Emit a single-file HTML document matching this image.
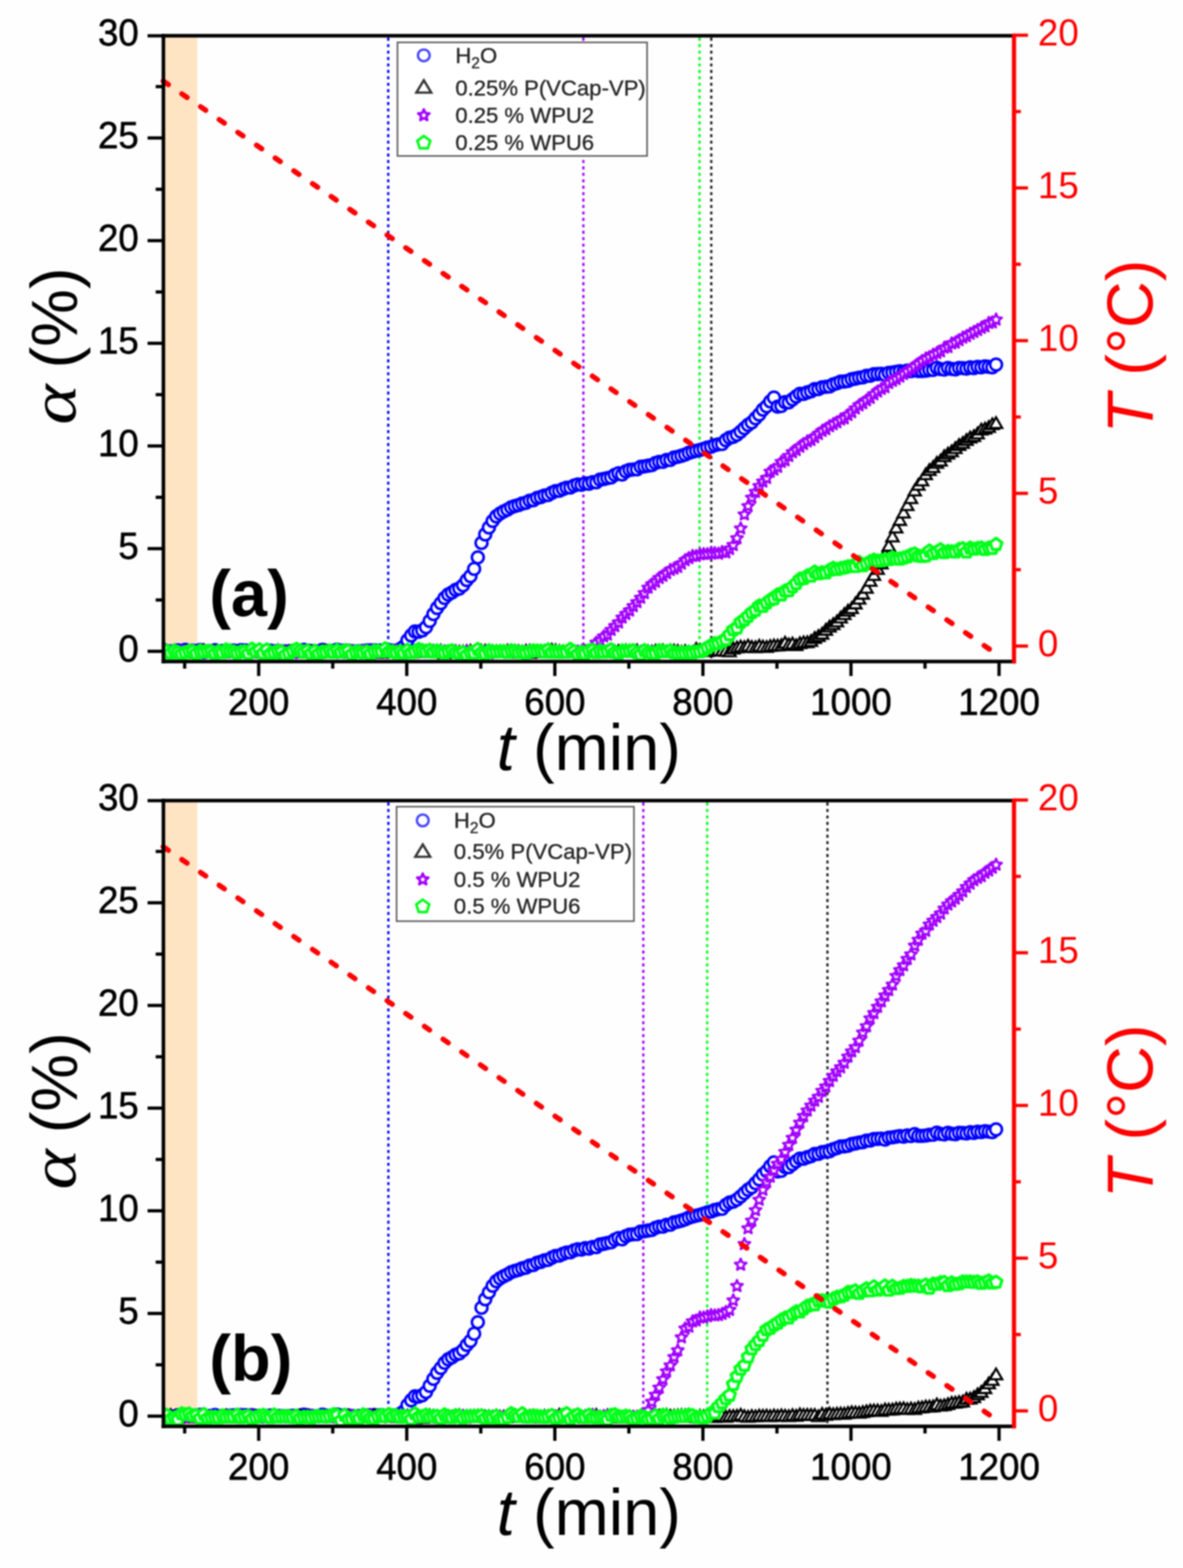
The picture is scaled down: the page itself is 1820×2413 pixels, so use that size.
<!DOCTYPE html>
<html><head><meta charset="utf-8"><title>Figure</title>
<style>html,body{margin:0;padding:0;background:#fefefe;}svg{display:block;}</style>
</head><body>
<svg xmlns="http://www.w3.org/2000/svg" width="1820" height="2413" viewBox="0 0 1820 2413">

<defs>
  <g id="c"><circle r="9.1" fill="#fff" stroke="#0000ff" stroke-width="3.9"/></g>
  <g id="tr"><path d="M0,-8.2 L9.5,8.25 L-9.5,8.25 Z" fill="#fff" stroke="#000000" stroke-width="3.3" stroke-linejoin="miter"/></g>
  <g id="st"><path d="M0.00,-8.50 L2.53,-2.58 L8.94,-2.01 L4.09,2.23 L5.53,8.50 L0.00,5.20 L-5.53,8.50 L-4.09,2.23 L-8.94,-2.01 L-2.53,-2.58 Z" fill="#fff" stroke="#a000ff" stroke-width="3.4" stroke-linejoin="round"/></g>
  <g id="pe"><path d="M0.00,-8.68 L9.13,-2.05 L5.64,8.68 L-5.64,8.68 L-9.13,-2.05 Z" fill="#fff" stroke="#00ff18" stroke-width="4.6" stroke-linejoin="round"/></g>
  <g id="lc"><circle r="9" fill="none" stroke="#4444ff" stroke-width="3.6"/></g>
  <g id="ltr"><path d="M0,-10 L11.5,9 L-11.5,9 Z" fill="none" stroke="#333" stroke-width="3.6"/></g>
  <g id="lst"><path d="M0.00,-8.32 L2.47,-2.52 L8.75,-1.96 L3.99,2.18 L5.41,8.32 L0.00,5.08 L-5.41,8.32 L-3.99,2.18 L-8.75,-1.96 L-2.47,-2.52 Z" fill="none" stroke="#a000ff" stroke-width="3.8" stroke-linejoin="round"/></g>
  <g id="lpe"><path d="M0.00,-9.50 L9.99,-2.24 L6.17,9.50 L-6.17,9.50 L-9.99,-2.24 Z" fill="none" stroke="#00ff18" stroke-width="4"/></g>
</defs>

<clipPath id="ca"><rect x="251.4" y="55.1" width="1308.6" height="962.9"/></clipPath>
<clipPath id="cb"><rect x="251.4" y="1232.1" width="1308.6" height="962.9"/></clipPath>
<filter id="soft" x="0" y="0" width="1" height="1" color-interpolation-filters="sRGB"><feGaussianBlur stdDeviation="0.8"/></filter>
<g filter="url(#soft)">
<rect width="1820" height="2413" fill="#fefefe"/>
<g transform="translate(0,0)">
<rect x="251.4" y="55.1" width="52.1" height="962.9" fill="#ffe4c4"/>
<line x1="597.3" y1="58.1" x2="597.3" y2="1015" stroke="#0000ff" stroke-width="3.5" stroke-dasharray="4.6 5.3"/>
<line x1="897.5" y1="58.1" x2="897.5" y2="1015" stroke="#a000ff" stroke-width="3.5" stroke-dasharray="4.6 5.3"/>
<line x1="1076.2" y1="58.1" x2="1076.2" y2="1015" stroke="#00ff18" stroke-width="3.5" stroke-dasharray="4.6 5.3"/>
<line x1="1094.3" y1="58.1" x2="1094.3" y2="1015" stroke="#222" stroke-width="3.5" stroke-dasharray="4.6 5.3"/>
</g>
<g clip-path="url(#ca)"><g><use href="#c" x="251.1" y="1000.1"/>
<use href="#c" x="256.8" y="1002.2"/>
<use href="#c" x="262.5" y="1002.2"/>
<use href="#c" x="268.2" y="1002.7"/>
<use href="#c" x="273.8" y="1000.8"/>
<use href="#c" x="279.5" y="1003.8"/>
<use href="#c" x="285.2" y="1000"/>
<use href="#c" x="290.9" y="1002.4"/>
<use href="#c" x="296.6" y="1001.4"/>
<use href="#c" x="302.3" y="1001.9"/>
<use href="#c" x="308" y="1000.3"/>
<use href="#c" x="313.7" y="1003.6"/>
<use href="#c" x="319.4" y="1002"/>
<use href="#c" x="325.1" y="1002"/>
<use href="#c" x="330.8" y="1000.6"/>
<use href="#c" x="336.5" y="1002.7"/>
<use href="#c" x="342.2" y="1001.8"/>
<use href="#c" x="347.9" y="1002.5"/>
<use href="#c" x="353.6" y="1001.6"/>
<use href="#c" x="359.3" y="1001.1"/>
<use href="#c" x="365" y="1002.7"/>
<use href="#c" x="370.7" y="1000.6"/>
<use href="#c" x="376.4" y="1000.8"/>
<use href="#c" x="382.1" y="1001.2"/>
<use href="#c" x="387.7" y="1000.8"/>
<use href="#c" x="393.4" y="1002.3"/>
<use href="#c" x="399.1" y="1001.8"/>
<use href="#c" x="404.8" y="1002.6"/>
<use href="#c" x="410.5" y="1001.9"/>
<use href="#c" x="416.2" y="1001.2"/>
<use href="#c" x="421.9" y="1002.3"/>
<use href="#c" x="427.6" y="1002"/>
<use href="#c" x="433.3" y="1002.3"/>
<use href="#c" x="439" y="1002.5"/>
<use href="#c" x="444.7" y="1002.3"/>
<use href="#c" x="450.4" y="1001.7"/>
<use href="#c" x="456.1" y="1002.7"/>
<use href="#c" x="461.8" y="1001.4"/>
<use href="#c" x="467.5" y="1000.1"/>
<use href="#c" x="473.2" y="1001"/>
<use href="#c" x="478.9" y="1001.8"/>
<use href="#c" x="484.6" y="1002.5"/>
<use href="#c" x="490.3" y="1002.4"/>
<use href="#c" x="496" y="1000.1"/>
<use href="#c" x="501.6" y="1001.6"/>
<use href="#c" x="507.3" y="1002.3"/>
<use href="#c" x="513" y="1001.5"/>
<use href="#c" x="518.7" y="999.7"/>
<use href="#c" x="524.4" y="1001.6"/>
<use href="#c" x="530.1" y="1001.1"/>
<use href="#c" x="535.8" y="1001.4"/>
<use href="#c" x="541.5" y="1002"/>
<use href="#c" x="547.2" y="1002.8"/>
<use href="#c" x="552.9" y="1002"/>
<use href="#c" x="558.6" y="1001.9"/>
<use href="#c" x="564.3" y="1001.1"/>
<use href="#c" x="570" y="1000.9"/>
<use href="#c" x="575.7" y="1000.8"/>
<use href="#c" x="581.4" y="1001.4"/>
<use href="#c" x="587.1" y="1000.8"/>
<use href="#c" x="592.8" y="1002.4"/>
<use href="#c" x="598.5" y="1000.5"/>
<use href="#c" x="604.2" y="1001.2"/>
<use href="#c" x="609.9" y="1001.9"/>
<use href="#c" x="615.5" y="998.8"/>
<use href="#c" x="621.2" y="995"/>
<use href="#c" x="626.9" y="985.4"/>
<use href="#c" x="632.6" y="977.9"/>
<use href="#c" x="638.3" y="971.8"/>
<use href="#c" x="644" y="972.3"/>
<use href="#c" x="649.7" y="970.1"/>
<use href="#c" x="655.4" y="965.3"/>
<use href="#c" x="661.1" y="955.6"/>
<use href="#c" x="666.8" y="945"/>
<use href="#c" x="672.5" y="935.6"/>
<use href="#c" x="678.2" y="928.2"/>
<use href="#c" x="683.9" y="920.3"/>
<use href="#c" x="689.6" y="914.9"/>
<use href="#c" x="695.3" y="911.7"/>
<use href="#c" x="701" y="907.7"/>
<use href="#c" x="706.7" y="905.6"/>
<use href="#c" x="712.4" y="900.8"/>
<use href="#c" x="718.1" y="892.7"/>
<use href="#c" x="723.8" y="886.6"/>
<use href="#c" x="729.4" y="875.5"/>
<use href="#c" x="735.1" y="857.8"/>
<use href="#c" x="740.8" y="835.5"/>
<use href="#c" x="746.5" y="822.4"/>
<use href="#c" x="752.2" y="811.7"/>
<use href="#c" x="757.9" y="801.7"/>
<use href="#c" x="763.6" y="794.6"/>
<use href="#c" x="769.3" y="790.3"/>
<use href="#c" x="775" y="787"/>
<use href="#c" x="780.7" y="784.2"/>
<use href="#c" x="786.4" y="780.7"/>
<use href="#c" x="792.1" y="778.8"/>
<use href="#c" x="797.8" y="777.2"/>
<use href="#c" x="803.5" y="774.9"/>
<use href="#c" x="809.2" y="773.6"/>
<use href="#c" x="814.9" y="770.5"/>
<use href="#c" x="820.6" y="769.7"/>
<use href="#c" x="826.3" y="766.2"/>
<use href="#c" x="832" y="764.9"/>
<use href="#c" x="837.7" y="762.5"/>
<use href="#c" x="843.3" y="761.8"/>
<use href="#c" x="849" y="758.4"/>
<use href="#c" x="854.7" y="755.8"/>
<use href="#c" x="860.4" y="755.3"/>
<use href="#c" x="866.1" y="752.6"/>
<use href="#c" x="871.8" y="750.5"/>
<use href="#c" x="877.5" y="750.2"/>
<use href="#c" x="883.2" y="747.2"/>
<use href="#c" x="888.9" y="745.5"/>
<use href="#c" x="894.6" y="746"/>
<use href="#c" x="900.3" y="743.9"/>
<use href="#c" x="906" y="744.4"/>
<use href="#c" x="911.7" y="742"/>
<use href="#c" x="917.4" y="742.2"/>
<use href="#c" x="923.1" y="738.1"/>
<use href="#c" x="928.8" y="737.1"/>
<use href="#c" x="934.5" y="735.7"/>
<use href="#c" x="940.2" y="734.6"/>
<use href="#c" x="945.9" y="730.8"/>
<use href="#c" x="951.6" y="728.4"/>
<use href="#c" x="957.2" y="730.2"/>
<use href="#c" x="962.9" y="725.4"/>
<use href="#c" x="968.6" y="723.1"/>
<use href="#c" x="974.3" y="722.5"/>
<use href="#c" x="980" y="722.1"/>
<use href="#c" x="985.7" y="718.4"/>
<use href="#c" x="991.4" y="717.7"/>
<use href="#c" x="997.1" y="716.6"/>
<use href="#c" x="1002.8" y="715.7"/>
<use href="#c" x="1008.5" y="712.5"/>
<use href="#c" x="1014.2" y="710.8"/>
<use href="#c" x="1019.9" y="710.6"/>
<use href="#c" x="1025.6" y="707.9"/>
<use href="#c" x="1031.3" y="707.8"/>
<use href="#c" x="1037" y="704.1"/>
<use href="#c" x="1042.7" y="703"/>
<use href="#c" x="1048.4" y="701.4"/>
<use href="#c" x="1054.1" y="699.5"/>
<use href="#c" x="1059.8" y="696.9"/>
<use href="#c" x="1065.5" y="695.3"/>
<use href="#c" x="1071.1" y="693.8"/>
<use href="#c" x="1076.8" y="692.5"/>
<use href="#c" x="1082.5" y="690.9"/>
<use href="#c" x="1088.2" y="688.8"/>
<use href="#c" x="1093.9" y="687.5"/>
<use href="#c" x="1099.6" y="685.1"/>
<use href="#c" x="1105.3" y="683.8"/>
<use href="#c" x="1111" y="683.3"/>
<use href="#c" x="1116.7" y="677.4"/>
<use href="#c" x="1122.4" y="673.6"/>
<use href="#c" x="1128.1" y="672.2"/>
<use href="#c" x="1133.8" y="669"/>
<use href="#c" x="1139.5" y="664.2"/>
<use href="#c" x="1145.2" y="659"/>
<use href="#c" x="1150.9" y="653.9"/>
<use href="#c" x="1156.6" y="650"/>
<use href="#c" x="1162.3" y="643.8"/>
<use href="#c" x="1168" y="637.9"/>
<use href="#c" x="1173.7" y="630.4"/>
<use href="#c" x="1179.4" y="625.3"/>
<use href="#c" x="1185" y="617.8"/>
<use href="#c" x="1190.7" y="611.9"/>
<use href="#c" x="1196.4" y="625.7"/>
<use href="#c" x="1202.1" y="624.8"/>
<use href="#c" x="1207.8" y="618.9"/>
<use href="#c" x="1213.5" y="619.2"/>
<use href="#c" x="1219.2" y="614.6"/>
<use href="#c" x="1224.9" y="610.1"/>
<use href="#c" x="1230.6" y="606"/>
<use href="#c" x="1236.3" y="606.3"/>
<use href="#c" x="1242" y="603.9"/>
<use href="#c" x="1247.7" y="602.2"/>
<use href="#c" x="1253.4" y="598.9"/>
<use href="#c" x="1259.1" y="598.6"/>
<use href="#c" x="1264.8" y="596"/>
<use href="#c" x="1270.5" y="595.3"/>
<use href="#c" x="1276.2" y="594.6"/>
<use href="#c" x="1281.9" y="591.5"/>
<use href="#c" x="1287.6" y="589.7"/>
<use href="#c" x="1293.3" y="587.4"/>
<use href="#c" x="1298.9" y="587.1"/>
<use href="#c" x="1304.6" y="586.1"/>
<use href="#c" x="1310.3" y="583.6"/>
<use href="#c" x="1316" y="582.6"/>
<use href="#c" x="1321.7" y="581.3"/>
<use href="#c" x="1327.4" y="580.6"/>
<use href="#c" x="1333.1" y="578.4"/>
<use href="#c" x="1338.8" y="578.1"/>
<use href="#c" x="1344.5" y="575.7"/>
<use href="#c" x="1350.2" y="575.6"/>
<use href="#c" x="1355.9" y="575.2"/>
<use href="#c" x="1361.6" y="576.6"/>
<use href="#c" x="1367.3" y="573.7"/>
<use href="#c" x="1373" y="573.2"/>
<use href="#c" x="1378.7" y="572.2"/>
<use href="#c" x="1384.4" y="571.3"/>
<use href="#c" x="1390.1" y="572.1"/>
<use href="#c" x="1395.8" y="570.4"/>
<use href="#c" x="1401.5" y="571.2"/>
<use href="#c" x="1407.2" y="568.3"/>
<use href="#c" x="1412.8" y="571"/>
<use href="#c" x="1418.5" y="571"/>
<use href="#c" x="1424.2" y="570.5"/>
<use href="#c" x="1429.9" y="569.4"/>
<use href="#c" x="1435.6" y="569.3"/>
<use href="#c" x="1441.3" y="566.1"/>
<use href="#c" x="1447" y="568"/>
<use href="#c" x="1452.7" y="568.8"/>
<use href="#c" x="1458.4" y="566.3"/>
<use href="#c" x="1464.1" y="567.8"/>
<use href="#c" x="1469.8" y="568.4"/>
<use href="#c" x="1475.5" y="566.3"/>
<use href="#c" x="1481.2" y="566.5"/>
<use href="#c" x="1486.9" y="567.3"/>
<use href="#c" x="1492.6" y="565.4"/>
<use href="#c" x="1498.3" y="566.4"/>
<use href="#c" x="1504" y="564.6"/>
<use href="#c" x="1509.7" y="565.3"/>
<use href="#c" x="1515.4" y="563.7"/>
<use href="#c" x="1521.1" y="564.5"/>
<use href="#c" x="1526.7" y="565.2"/>
<use href="#c" x="1532.4" y="561.1"/></g>
<g><use href="#tr" x="251.1" y="1002.7"/>
<use href="#tr" x="256.8" y="1002.4"/>
<use href="#tr" x="262.5" y="1004.3"/>
<use href="#tr" x="268.2" y="1000.7"/>
<use href="#tr" x="273.8" y="1004"/>
<use href="#tr" x="279.5" y="1003.1"/>
<use href="#tr" x="285.2" y="1001.8"/>
<use href="#tr" x="290.9" y="1003.5"/>
<use href="#tr" x="296.6" y="1003.3"/>
<use href="#tr" x="302.3" y="1003.2"/>
<use href="#tr" x="308" y="1001.8"/>
<use href="#tr" x="313.7" y="1000.1"/>
<use href="#tr" x="319.4" y="1002.3"/>
<use href="#tr" x="325.1" y="1003.4"/>
<use href="#tr" x="330.8" y="1001.8"/>
<use href="#tr" x="336.5" y="1002.9"/>
<use href="#tr" x="342.2" y="1002.3"/>
<use href="#tr" x="347.9" y="1001.2"/>
<use href="#tr" x="353.6" y="1003"/>
<use href="#tr" x="359.3" y="1002.3"/>
<use href="#tr" x="365" y="1003.1"/>
<use href="#tr" x="370.7" y="1002.4"/>
<use href="#tr" x="376.4" y="1002"/>
<use href="#tr" x="382.1" y="1003.2"/>
<use href="#tr" x="387.7" y="1002.6"/>
<use href="#tr" x="393.4" y="1002.5"/>
<use href="#tr" x="399.1" y="1002.9"/>
<use href="#tr" x="404.8" y="1003.4"/>
<use href="#tr" x="410.5" y="1003.6"/>
<use href="#tr" x="416.2" y="1002.4"/>
<use href="#tr" x="421.9" y="1002.5"/>
<use href="#tr" x="427.6" y="1000.2"/>
<use href="#tr" x="433.3" y="1004.6"/>
<use href="#tr" x="439" y="1002.2"/>
<use href="#tr" x="444.7" y="1001.9"/>
<use href="#tr" x="450.4" y="1001"/>
<use href="#tr" x="456.1" y="1001.8"/>
<use href="#tr" x="461.8" y="1003.1"/>
<use href="#tr" x="467.5" y="1002.3"/>
<use href="#tr" x="473.2" y="1001.7"/>
<use href="#tr" x="478.9" y="1002.6"/>
<use href="#tr" x="484.6" y="1001.5"/>
<use href="#tr" x="490.3" y="1004"/>
<use href="#tr" x="496" y="1000.6"/>
<use href="#tr" x="501.6" y="1000.9"/>
<use href="#tr" x="507.3" y="1002.6"/>
<use href="#tr" x="513" y="1001.7"/>
<use href="#tr" x="518.7" y="1002.2"/>
<use href="#tr" x="524.4" y="1003"/>
<use href="#tr" x="530.1" y="1002.2"/>
<use href="#tr" x="535.8" y="1001.3"/>
<use href="#tr" x="541.5" y="1002.6"/>
<use href="#tr" x="547.2" y="1002.6"/>
<use href="#tr" x="552.9" y="1002.3"/>
<use href="#tr" x="558.6" y="1001.8"/>
<use href="#tr" x="564.3" y="1001"/>
<use href="#tr" x="570" y="1002.8"/>
<use href="#tr" x="575.7" y="1001.7"/>
<use href="#tr" x="581.4" y="1002"/>
<use href="#tr" x="587.1" y="1004"/>
<use href="#tr" x="592.8" y="1002.6"/>
<use href="#tr" x="598.5" y="1002.3"/>
<use href="#tr" x="604.2" y="1002.2"/>
<use href="#tr" x="609.9" y="1001.9"/>
<use href="#tr" x="615.5" y="1004.1"/>
<use href="#tr" x="621.2" y="1002.1"/>
<use href="#tr" x="626.9" y="1002.8"/>
<use href="#tr" x="632.6" y="1003.5"/>
<use href="#tr" x="638.3" y="1001.6"/>
<use href="#tr" x="644" y="1001.4"/>
<use href="#tr" x="649.7" y="1002.7"/>
<use href="#tr" x="655.4" y="1001.3"/>
<use href="#tr" x="661.1" y="1002.5"/>
<use href="#tr" x="666.8" y="1002"/>
<use href="#tr" x="672.5" y="1003.1"/>
<use href="#tr" x="678.2" y="1000.6"/>
<use href="#tr" x="683.9" y="1004.6"/>
<use href="#tr" x="689.6" y="1002.2"/>
<use href="#tr" x="695.3" y="1001.4"/>
<use href="#tr" x="701" y="1004"/>
<use href="#tr" x="706.7" y="1002.2"/>
<use href="#tr" x="712.4" y="1002.1"/>
<use href="#tr" x="718.1" y="1001.2"/>
<use href="#tr" x="723.8" y="1000.8"/>
<use href="#tr" x="729.4" y="1002.4"/>
<use href="#tr" x="735.1" y="1003.3"/>
<use href="#tr" x="740.8" y="1000.7"/>
<use href="#tr" x="746.5" y="1000.8"/>
<use href="#tr" x="752.2" y="1002.4"/>
<use href="#tr" x="757.9" y="1001.6"/>
<use href="#tr" x="763.6" y="1001.6"/>
<use href="#tr" x="769.3" y="1001.4"/>
<use href="#tr" x="775" y="1001.7"/>
<use href="#tr" x="780.7" y="1000.6"/>
<use href="#tr" x="786.4" y="1003.5"/>
<use href="#tr" x="792.1" y="1000.9"/>
<use href="#tr" x="797.8" y="1001.5"/>
<use href="#tr" x="803.5" y="1002.1"/>
<use href="#tr" x="809.2" y="1000.7"/>
<use href="#tr" x="814.9" y="1004.1"/>
<use href="#tr" x="820.6" y="1000.7"/>
<use href="#tr" x="826.3" y="1001.4"/>
<use href="#tr" x="832" y="1002.9"/>
<use href="#tr" x="837.7" y="1001.4"/>
<use href="#tr" x="843.3" y="1002.1"/>
<use href="#tr" x="849" y="999.3"/>
<use href="#tr" x="854.7" y="1000"/>
<use href="#tr" x="860.4" y="1001.3"/>
<use href="#tr" x="866.1" y="1002.4"/>
<use href="#tr" x="871.8" y="1002.2"/>
<use href="#tr" x="877.5" y="1002"/>
<use href="#tr" x="883.2" y="1002.2"/>
<use href="#tr" x="888.9" y="1002.5"/>
<use href="#tr" x="894.6" y="1002.2"/>
<use href="#tr" x="900.3" y="1001.9"/>
<use href="#tr" x="906" y="1002.1"/>
<use href="#tr" x="911.7" y="1002.2"/>
<use href="#tr" x="917.4" y="1002.4"/>
<use href="#tr" x="923.1" y="999.1"/>
<use href="#tr" x="928.8" y="1002.9"/>
<use href="#tr" x="934.5" y="1002.5"/>
<use href="#tr" x="940.2" y="1001.1"/>
<use href="#tr" x="945.9" y="1001.8"/>
<use href="#tr" x="951.6" y="1001"/>
<use href="#tr" x="957.2" y="1000.7"/>
<use href="#tr" x="962.9" y="1000.2"/>
<use href="#tr" x="968.6" y="1000.7"/>
<use href="#tr" x="974.3" y="1002.3"/>
<use href="#tr" x="980" y="1000.3"/>
<use href="#tr" x="985.7" y="1003"/>
<use href="#tr" x="991.4" y="1001.4"/>
<use href="#tr" x="997.1" y="1001.7"/>
<use href="#tr" x="1002.8" y="1002.2"/>
<use href="#tr" x="1008.5" y="1000.7"/>
<use href="#tr" x="1014.2" y="1001.4"/>
<use href="#tr" x="1019.9" y="1000.2"/>
<use href="#tr" x="1025.6" y="1002.6"/>
<use href="#tr" x="1031.3" y="1000.3"/>
<use href="#tr" x="1037" y="1000.6"/>
<use href="#tr" x="1042.7" y="1001"/>
<use href="#tr" x="1048.4" y="1002.4"/>
<use href="#tr" x="1054.1" y="1001.3"/>
<use href="#tr" x="1059.8" y="1002.5"/>
<use href="#tr" x="1065.5" y="1002.9"/>
<use href="#tr" x="1071.1" y="997.8"/>
<use href="#tr" x="1076.8" y="1000"/>
<use href="#tr" x="1082.5" y="999.2"/>
<use href="#tr" x="1088.2" y="1001.3"/>
<use href="#tr" x="1093.9" y="1000.2"/>
<use href="#tr" x="1099.6" y="1000.1"/>
<use href="#tr" x="1105.3" y="1000.2"/>
<use href="#tr" x="1111" y="1000.7"/>
<use href="#tr" x="1116.7" y="1000.9"/>
<use href="#tr" x="1122.4" y="1001.6"/>
<use href="#tr" x="1128.1" y="997.3"/>
<use href="#tr" x="1133.8" y="995.7"/>
<use href="#tr" x="1139.5" y="994.2"/>
<use href="#tr" x="1145.2" y="995.1"/>
<use href="#tr" x="1150.9" y="992.9"/>
<use href="#tr" x="1156.6" y="994.8"/>
<use href="#tr" x="1162.3" y="995.3"/>
<use href="#tr" x="1168" y="993.1"/>
<use href="#tr" x="1173.7" y="994.3"/>
<use href="#tr" x="1179.4" y="994.9"/>
<use href="#tr" x="1185" y="993.4"/>
<use href="#tr" x="1190.7" y="992.5"/>
<use href="#tr" x="1196.4" y="992.7"/>
<use href="#tr" x="1202.1" y="992.1"/>
<use href="#tr" x="1207.8" y="988.3"/>
<use href="#tr" x="1213.5" y="990.9"/>
<use href="#tr" x="1219.2" y="989.6"/>
<use href="#tr" x="1224.9" y="992.2"/>
<use href="#tr" x="1230.6" y="989.1"/>
<use href="#tr" x="1236.3" y="987.7"/>
<use href="#tr" x="1242" y="987.5"/>
<use href="#tr" x="1247.7" y="985.7"/>
<use href="#tr" x="1253.4" y="981.1"/>
<use href="#tr" x="1259.1" y="978.1"/>
<use href="#tr" x="1264.8" y="974.5"/>
<use href="#tr" x="1270.5" y="968.5"/>
<use href="#tr" x="1276.2" y="963.6"/>
<use href="#tr" x="1281.9" y="959.8"/>
<use href="#tr" x="1287.6" y="955.6"/>
<use href="#tr" x="1293.3" y="949.7"/>
<use href="#tr" x="1298.9" y="944.3"/>
<use href="#tr" x="1304.6" y="939"/>
<use href="#tr" x="1310.3" y="935.2"/>
<use href="#tr" x="1316" y="928"/>
<use href="#tr" x="1321.7" y="920.7"/>
<use href="#tr" x="1327.4" y="913"/>
<use href="#tr" x="1333.1" y="903.8"/>
<use href="#tr" x="1338.8" y="893.2"/>
<use href="#tr" x="1344.5" y="884.2"/>
<use href="#tr" x="1350.2" y="874.8"/>
<use href="#tr" x="1355.9" y="866.3"/>
<use href="#tr" x="1361.6" y="852.1"/>
<use href="#tr" x="1367.3" y="839.1"/>
<use href="#tr" x="1373" y="824.9"/>
<use href="#tr" x="1378.7" y="811.1"/>
<use href="#tr" x="1384.4" y="799.5"/>
<use href="#tr" x="1390.1" y="788.2"/>
<use href="#tr" x="1395.8" y="776.7"/>
<use href="#tr" x="1401.5" y="765.9"/>
<use href="#tr" x="1407.2" y="754.2"/>
<use href="#tr" x="1412.8" y="745.4"/>
<use href="#tr" x="1418.5" y="738.6"/>
<use href="#tr" x="1424.2" y="729.2"/>
<use href="#tr" x="1429.9" y="722.5"/>
<use href="#tr" x="1435.6" y="718.1"/>
<use href="#tr" x="1441.3" y="711.6"/>
<use href="#tr" x="1447" y="708.1"/>
<use href="#tr" x="1452.7" y="701.3"/>
<use href="#tr" x="1458.4" y="697.3"/>
<use href="#tr" x="1464.1" y="693.8"/>
<use href="#tr" x="1469.8" y="688.9"/>
<use href="#tr" x="1475.5" y="684"/>
<use href="#tr" x="1481.2" y="680.9"/>
<use href="#tr" x="1486.9" y="676.4"/>
<use href="#tr" x="1492.6" y="672.6"/>
<use href="#tr" x="1498.3" y="670.4"/>
<use href="#tr" x="1504" y="666.3"/>
<use href="#tr" x="1509.7" y="660.4"/>
<use href="#tr" x="1515.4" y="658.9"/>
<use href="#tr" x="1521.1" y="656.4"/>
<use href="#tr" x="1526.7" y="652.2"/>
<use href="#tr" x="1532.4" y="650.3"/></g>
<g><use href="#st" x="251.1" y="1000.6"/>
<use href="#st" x="256.8" y="1001.9"/>
<use href="#st" x="262.5" y="1002.2"/>
<use href="#st" x="268.2" y="1004.1"/>
<use href="#st" x="273.8" y="1002.6"/>
<use href="#st" x="279.5" y="1002.6"/>
<use href="#st" x="285.2" y="1002.4"/>
<use href="#st" x="290.9" y="1002.9"/>
<use href="#st" x="296.6" y="1002.3"/>
<use href="#st" x="302.3" y="1002.8"/>
<use href="#st" x="308" y="1003.5"/>
<use href="#st" x="313.7" y="1001.5"/>
<use href="#st" x="319.4" y="1001.5"/>
<use href="#st" x="325.1" y="1000.7"/>
<use href="#st" x="330.8" y="1002.3"/>
<use href="#st" x="336.5" y="1002.7"/>
<use href="#st" x="342.2" y="1002.8"/>
<use href="#st" x="347.9" y="1003.8"/>
<use href="#st" x="353.6" y="1001.4"/>
<use href="#st" x="359.3" y="1003.3"/>
<use href="#st" x="365" y="1003.4"/>
<use href="#st" x="370.7" y="1002.5"/>
<use href="#st" x="376.4" y="1000.9"/>
<use href="#st" x="382.1" y="1002.1"/>
<use href="#st" x="387.7" y="1003.3"/>
<use href="#st" x="393.4" y="1003"/>
<use href="#st" x="399.1" y="1001.7"/>
<use href="#st" x="404.8" y="1002.4"/>
<use href="#st" x="410.5" y="1003"/>
<use href="#st" x="416.2" y="1002.5"/>
<use href="#st" x="421.9" y="1001.6"/>
<use href="#st" x="427.6" y="1000.4"/>
<use href="#st" x="433.3" y="1003.5"/>
<use href="#st" x="439" y="1002.9"/>
<use href="#st" x="444.7" y="1003"/>
<use href="#st" x="450.4" y="1004.6"/>
<use href="#st" x="456.1" y="1003.2"/>
<use href="#st" x="461.8" y="1003.2"/>
<use href="#st" x="467.5" y="1001.2"/>
<use href="#st" x="473.2" y="1002.4"/>
<use href="#st" x="478.9" y="1003.8"/>
<use href="#st" x="484.6" y="1001.7"/>
<use href="#st" x="490.3" y="1002.6"/>
<use href="#st" x="496" y="1003.9"/>
<use href="#st" x="501.6" y="1002.8"/>
<use href="#st" x="507.3" y="1002.8"/>
<use href="#st" x="513" y="1003.1"/>
<use href="#st" x="518.7" y="1002.2"/>
<use href="#st" x="524.4" y="1004.4"/>
<use href="#st" x="530.1" y="1002.5"/>
<use href="#st" x="535.8" y="1001.3"/>
<use href="#st" x="541.5" y="1001.4"/>
<use href="#st" x="547.2" y="1001.2"/>
<use href="#st" x="552.9" y="1001.2"/>
<use href="#st" x="558.6" y="1000.8"/>
<use href="#st" x="564.3" y="1003.3"/>
<use href="#st" x="570" y="1001.4"/>
<use href="#st" x="575.7" y="1004"/>
<use href="#st" x="581.4" y="1002.8"/>
<use href="#st" x="587.1" y="1004"/>
<use href="#st" x="592.8" y="1001.2"/>
<use href="#st" x="598.5" y="1000.9"/>
<use href="#st" x="604.2" y="1002.4"/>
<use href="#st" x="609.9" y="1000.5"/>
<use href="#st" x="615.5" y="1002.8"/>
<use href="#st" x="621.2" y="1002"/>
<use href="#st" x="626.9" y="1002"/>
<use href="#st" x="632.6" y="1003.2"/>
<use href="#st" x="638.3" y="1001.7"/>
<use href="#st" x="644" y="1000.3"/>
<use href="#st" x="649.7" y="1003.1"/>
<use href="#st" x="655.4" y="1001.3"/>
<use href="#st" x="661.1" y="1002.3"/>
<use href="#st" x="666.8" y="1000.5"/>
<use href="#st" x="672.5" y="1001.7"/>
<use href="#st" x="678.2" y="1001.5"/>
<use href="#st" x="683.9" y="1001.5"/>
<use href="#st" x="689.6" y="1001.9"/>
<use href="#st" x="695.3" y="1003.4"/>
<use href="#st" x="701" y="1000.8"/>
<use href="#st" x="706.7" y="1003.4"/>
<use href="#st" x="712.4" y="1001.8"/>
<use href="#st" x="718.1" y="1001.5"/>
<use href="#st" x="723.8" y="1002.9"/>
<use href="#st" x="729.4" y="1001.9"/>
<use href="#st" x="735.1" y="1000.9"/>
<use href="#st" x="740.8" y="1002.1"/>
<use href="#st" x="746.5" y="1002.9"/>
<use href="#st" x="752.2" y="1004.8"/>
<use href="#st" x="757.9" y="1002.9"/>
<use href="#st" x="763.6" y="1002.6"/>
<use href="#st" x="769.3" y="1002.5"/>
<use href="#st" x="775" y="1002.9"/>
<use href="#st" x="780.7" y="1001.6"/>
<use href="#st" x="786.4" y="1002.5"/>
<use href="#st" x="792.1" y="1002"/>
<use href="#st" x="797.8" y="1001.3"/>
<use href="#st" x="803.5" y="1002.7"/>
<use href="#st" x="809.2" y="1002.2"/>
<use href="#st" x="814.9" y="999.8"/>
<use href="#st" x="820.6" y="1001.1"/>
<use href="#st" x="826.3" y="1003.1"/>
<use href="#st" x="832" y="1001.9"/>
<use href="#st" x="837.7" y="1001.3"/>
<use href="#st" x="843.3" y="1000.7"/>
<use href="#st" x="849" y="1001.7"/>
<use href="#st" x="854.7" y="1002.3"/>
<use href="#st" x="860.4" y="1002.5"/>
<use href="#st" x="866.1" y="1001.2"/>
<use href="#st" x="871.8" y="1001.5"/>
<use href="#st" x="877.5" y="1002.2"/>
<use href="#st" x="883.2" y="1001.9"/>
<use href="#st" x="888.9" y="1002.1"/>
<use href="#st" x="894.6" y="1001"/>
<use href="#st" x="900.3" y="1002.3"/>
<use href="#st" x="906" y="1001"/>
<use href="#st" x="911.7" y="994.6"/>
<use href="#st" x="917.4" y="988.2"/>
<use href="#st" x="923.1" y="984.9"/>
<use href="#st" x="928.8" y="978.6"/>
<use href="#st" x="934.5" y="975.8"/>
<use href="#st" x="940.2" y="968.6"/>
<use href="#st" x="945.9" y="962.8"/>
<use href="#st" x="951.6" y="957.2"/>
<use href="#st" x="957.2" y="949.6"/>
<use href="#st" x="962.9" y="944.1"/>
<use href="#st" x="968.6" y="938.8"/>
<use href="#st" x="974.3" y="932"/>
<use href="#st" x="980" y="925.9"/>
<use href="#st" x="985.7" y="919.1"/>
<use href="#st" x="991.4" y="912"/>
<use href="#st" x="997.1" y="903.6"/>
<use href="#st" x="1002.8" y="898.6"/>
<use href="#st" x="1008.5" y="894.6"/>
<use href="#st" x="1014.2" y="888.7"/>
<use href="#st" x="1019.9" y="885.3"/>
<use href="#st" x="1025.6" y="881.2"/>
<use href="#st" x="1031.3" y="876.3"/>
<use href="#st" x="1037" y="874.2"/>
<use href="#st" x="1042.7" y="871.7"/>
<use href="#st" x="1048.4" y="866.6"/>
<use href="#st" x="1054.1" y="861.4"/>
<use href="#st" x="1059.8" y="858.1"/>
<use href="#st" x="1065.5" y="854.8"/>
<use href="#st" x="1071.1" y="854.9"/>
<use href="#st" x="1076.8" y="852.3"/>
<use href="#st" x="1082.5" y="851.9"/>
<use href="#st" x="1088.2" y="852"/>
<use href="#st" x="1093.9" y="850.7"/>
<use href="#st" x="1099.6" y="850.5"/>
<use href="#st" x="1105.3" y="851.3"/>
<use href="#st" x="1111" y="848.7"/>
<use href="#st" x="1116.7" y="849.3"/>
<use href="#st" x="1122.4" y="844.1"/>
<use href="#st" x="1128.1" y="838"/>
<use href="#st" x="1133.8" y="827.5"/>
<use href="#st" x="1139.5" y="812.4"/>
<use href="#st" x="1145.2" y="790.9"/>
<use href="#st" x="1150.9" y="778.1"/>
<use href="#st" x="1156.6" y="765.1"/>
<use href="#st" x="1162.3" y="756.3"/>
<use href="#st" x="1168" y="747.2"/>
<use href="#st" x="1173.7" y="740.3"/>
<use href="#st" x="1179.4" y="734.9"/>
<use href="#st" x="1185" y="725.1"/>
<use href="#st" x="1190.7" y="721.9"/>
<use href="#st" x="1196.4" y="717.7"/>
<use href="#st" x="1202.1" y="710.1"/>
<use href="#st" x="1207.8" y="707.6"/>
<use href="#st" x="1213.5" y="701"/>
<use href="#st" x="1219.2" y="695.2"/>
<use href="#st" x="1224.9" y="691.7"/>
<use href="#st" x="1230.6" y="686.7"/>
<use href="#st" x="1236.3" y="682.6"/>
<use href="#st" x="1242" y="678.5"/>
<use href="#st" x="1247.7" y="676.3"/>
<use href="#st" x="1253.4" y="672"/>
<use href="#st" x="1259.1" y="667.1"/>
<use href="#st" x="1264.8" y="662.4"/>
<use href="#st" x="1270.5" y="659.6"/>
<use href="#st" x="1276.2" y="655.1"/>
<use href="#st" x="1281.9" y="652"/>
<use href="#st" x="1287.6" y="649.1"/>
<use href="#st" x="1293.3" y="644.9"/>
<use href="#st" x="1298.9" y="643"/>
<use href="#st" x="1304.6" y="637.9"/>
<use href="#st" x="1310.3" y="633.6"/>
<use href="#st" x="1316" y="627.9"/>
<use href="#st" x="1321.7" y="623"/>
<use href="#st" x="1327.4" y="619.7"/>
<use href="#st" x="1333.1" y="615.2"/>
<use href="#st" x="1338.8" y="611.6"/>
<use href="#st" x="1344.5" y="606"/>
<use href="#st" x="1350.2" y="601.7"/>
<use href="#st" x="1355.9" y="597.7"/>
<use href="#st" x="1361.6" y="595.1"/>
<use href="#st" x="1367.3" y="588.7"/>
<use href="#st" x="1373" y="585.4"/>
<use href="#st" x="1378.7" y="582.5"/>
<use href="#st" x="1384.4" y="578.9"/>
<use href="#st" x="1390.1" y="574.9"/>
<use href="#st" x="1395.8" y="570.7"/>
<use href="#st" x="1401.5" y="567.3"/>
<use href="#st" x="1407.2" y="563.2"/>
<use href="#st" x="1412.8" y="559.2"/>
<use href="#st" x="1418.5" y="554.8"/>
<use href="#st" x="1424.2" y="551.1"/>
<use href="#st" x="1429.9" y="548.7"/>
<use href="#st" x="1435.6" y="544.9"/>
<use href="#st" x="1441.3" y="542.6"/>
<use href="#st" x="1447" y="539.8"/>
<use href="#st" x="1452.7" y="534.4"/>
<use href="#st" x="1458.4" y="533.4"/>
<use href="#st" x="1464.1" y="527.7"/>
<use href="#st" x="1469.8" y="526.5"/>
<use href="#st" x="1475.5" y="522.7"/>
<use href="#st" x="1481.2" y="518.8"/>
<use href="#st" x="1486.9" y="516.6"/>
<use href="#st" x="1492.6" y="512.9"/>
<use href="#st" x="1498.3" y="510"/>
<use href="#st" x="1504" y="507"/>
<use href="#st" x="1509.7" y="503.7"/>
<use href="#st" x="1515.4" y="501.3"/>
<use href="#st" x="1521.1" y="496.3"/>
<use href="#st" x="1526.7" y="495.3"/>
<use href="#st" x="1532.4" y="491"/></g>
<g><use href="#pe" x="251.1" y="1002.2"/>
<use href="#pe" x="256.8" y="1001.4"/>
<use href="#pe" x="262.5" y="1004.2"/>
<use href="#pe" x="268.2" y="1001"/>
<use href="#pe" x="273.8" y="1003.1"/>
<use href="#pe" x="279.5" y="1005.3"/>
<use href="#pe" x="285.2" y="1003.5"/>
<use href="#pe" x="290.9" y="1001.2"/>
<use href="#pe" x="296.6" y="1001.7"/>
<use href="#pe" x="302.3" y="1004.5"/>
<use href="#pe" x="308" y="1001.1"/>
<use href="#pe" x="313.7" y="1002.5"/>
<use href="#pe" x="319.4" y="1001.5"/>
<use href="#pe" x="325.1" y="1001.7"/>
<use href="#pe" x="330.8" y="1004.5"/>
<use href="#pe" x="336.5" y="1001.6"/>
<use href="#pe" x="342.2" y="1003.5"/>
<use href="#pe" x="347.9" y="999.4"/>
<use href="#pe" x="353.6" y="1000.9"/>
<use href="#pe" x="359.3" y="1002.2"/>
<use href="#pe" x="365" y="1004.2"/>
<use href="#pe" x="370.7" y="1002.2"/>
<use href="#pe" x="376.4" y="1002"/>
<use href="#pe" x="382.1" y="1004.6"/>
<use href="#pe" x="387.7" y="998.1"/>
<use href="#pe" x="393.4" y="1001.6"/>
<use href="#pe" x="399.1" y="999.1"/>
<use href="#pe" x="404.8" y="1004.4"/>
<use href="#pe" x="410.5" y="999.2"/>
<use href="#pe" x="416.2" y="1004.9"/>
<use href="#pe" x="421.9" y="1003.5"/>
<use href="#pe" x="427.6" y="1001.3"/>
<use href="#pe" x="433.3" y="1002.2"/>
<use href="#pe" x="439" y="1006.8"/>
<use href="#pe" x="444.7" y="1004.4"/>
<use href="#pe" x="450.4" y="1000.7"/>
<use href="#pe" x="456.1" y="998.3"/>
<use href="#pe" x="461.8" y="1000.6"/>
<use href="#pe" x="467.5" y="1002.8"/>
<use href="#pe" x="473.2" y="1000.8"/>
<use href="#pe" x="478.9" y="1004.5"/>
<use href="#pe" x="484.6" y="1001.3"/>
<use href="#pe" x="490.3" y="1004.9"/>
<use href="#pe" x="496" y="1002.3"/>
<use href="#pe" x="501.6" y="1002.5"/>
<use href="#pe" x="507.3" y="1000.8"/>
<use href="#pe" x="513" y="1002.9"/>
<use href="#pe" x="518.7" y="1000"/>
<use href="#pe" x="524.4" y="1002.7"/>
<use href="#pe" x="530.1" y="1000.7"/>
<use href="#pe" x="535.8" y="1000.8"/>
<use href="#pe" x="541.5" y="1005.8"/>
<use href="#pe" x="547.2" y="1002.2"/>
<use href="#pe" x="552.9" y="1002.2"/>
<use href="#pe" x="558.6" y="1003.8"/>
<use href="#pe" x="564.3" y="1002"/>
<use href="#pe" x="570" y="1005.1"/>
<use href="#pe" x="575.7" y="1001.2"/>
<use href="#pe" x="581.4" y="1001.3"/>
<use href="#pe" x="587.1" y="1001.7"/>
<use href="#pe" x="592.8" y="997.6"/>
<use href="#pe" x="598.5" y="1001.6"/>
<use href="#pe" x="604.2" y="1002.2"/>
<use href="#pe" x="609.9" y="1003.7"/>
<use href="#pe" x="615.5" y="1001.7"/>
<use href="#pe" x="621.2" y="1004.1"/>
<use href="#pe" x="626.9" y="999.9"/>
<use href="#pe" x="632.6" y="1003.5"/>
<use href="#pe" x="638.3" y="1002"/>
<use href="#pe" x="644" y="998.5"/>
<use href="#pe" x="649.7" y="1000.1"/>
<use href="#pe" x="655.4" y="1001.8"/>
<use href="#pe" x="661.1" y="999.7"/>
<use href="#pe" x="666.8" y="1002.4"/>
<use href="#pe" x="672.5" y="1000.8"/>
<use href="#pe" x="678.2" y="1002.3"/>
<use href="#pe" x="683.9" y="1004"/>
<use href="#pe" x="689.6" y="1001.5"/>
<use href="#pe" x="695.3" y="1000.5"/>
<use href="#pe" x="701" y="1003"/>
<use href="#pe" x="706.7" y="1004.4"/>
<use href="#pe" x="712.4" y="1003.3"/>
<use href="#pe" x="718.1" y="1006.8"/>
<use href="#pe" x="723.8" y="1003.5"/>
<use href="#pe" x="729.4" y="1004.3"/>
<use href="#pe" x="735.1" y="998.5"/>
<use href="#pe" x="740.8" y="1003.4"/>
<use href="#pe" x="746.5" y="1005.2"/>
<use href="#pe" x="752.2" y="1000.6"/>
<use href="#pe" x="757.9" y="1002.6"/>
<use href="#pe" x="763.6" y="1002.2"/>
<use href="#pe" x="769.3" y="1001.9"/>
<use href="#pe" x="775" y="1001.9"/>
<use href="#pe" x="780.7" y="1003"/>
<use href="#pe" x="786.4" y="1000.5"/>
<use href="#pe" x="792.1" y="1001.3"/>
<use href="#pe" x="797.8" y="1003.2"/>
<use href="#pe" x="803.5" y="1002.6"/>
<use href="#pe" x="809.2" y="1004.1"/>
<use href="#pe" x="814.9" y="1001.8"/>
<use href="#pe" x="820.6" y="1000.9"/>
<use href="#pe" x="826.3" y="1001.1"/>
<use href="#pe" x="832" y="1001.1"/>
<use href="#pe" x="837.7" y="1002.5"/>
<use href="#pe" x="843.3" y="999.3"/>
<use href="#pe" x="849" y="1002.7"/>
<use href="#pe" x="854.7" y="1002.2"/>
<use href="#pe" x="860.4" y="1002.9"/>
<use href="#pe" x="866.1" y="1002.1"/>
<use href="#pe" x="871.8" y="1002.8"/>
<use href="#pe" x="877.5" y="998.4"/>
<use href="#pe" x="883.2" y="1001.5"/>
<use href="#pe" x="888.9" y="1005.5"/>
<use href="#pe" x="894.6" y="1003.1"/>
<use href="#pe" x="900.3" y="1005"/>
<use href="#pe" x="906" y="1000.6"/>
<use href="#pe" x="911.7" y="999.7"/>
<use href="#pe" x="917.4" y="1003.2"/>
<use href="#pe" x="923.1" y="1001.1"/>
<use href="#pe" x="928.8" y="1002.7"/>
<use href="#pe" x="934.5" y="1001.5"/>
<use href="#pe" x="940.2" y="999"/>
<use href="#pe" x="945.9" y="1003"/>
<use href="#pe" x="951.6" y="1004.6"/>
<use href="#pe" x="957.2" y="1000.9"/>
<use href="#pe" x="962.9" y="1001.3"/>
<use href="#pe" x="968.6" y="1001"/>
<use href="#pe" x="974.3" y="1000.4"/>
<use href="#pe" x="980" y="1003.6"/>
<use href="#pe" x="985.7" y="1006"/>
<use href="#pe" x="991.4" y="1000.3"/>
<use href="#pe" x="997.1" y="1003.1"/>
<use href="#pe" x="1002.8" y="1004.6"/>
<use href="#pe" x="1008.5" y="1004.5"/>
<use href="#pe" x="1014.2" y="1000.2"/>
<use href="#pe" x="1019.9" y="1002"/>
<use href="#pe" x="1025.6" y="1001.7"/>
<use href="#pe" x="1031.3" y="1000.7"/>
<use href="#pe" x="1037" y="1003.6"/>
<use href="#pe" x="1042.7" y="1004.4"/>
<use href="#pe" x="1048.4" y="1003.9"/>
<use href="#pe" x="1054.1" y="1004.4"/>
<use href="#pe" x="1059.8" y="1002.9"/>
<use href="#pe" x="1065.5" y="1004"/>
<use href="#pe" x="1071.1" y="1002.2"/>
<use href="#pe" x="1076.8" y="1002.1"/>
<use href="#pe" x="1082.5" y="999.4"/>
<use href="#pe" x="1088.2" y="995.9"/>
<use href="#pe" x="1093.9" y="992.4"/>
<use href="#pe" x="1099.6" y="989.6"/>
<use href="#pe" x="1105.3" y="989.4"/>
<use href="#pe" x="1111" y="985.9"/>
<use href="#pe" x="1116.7" y="983.3"/>
<use href="#pe" x="1122.4" y="975.7"/>
<use href="#pe" x="1128.1" y="968.3"/>
<use href="#pe" x="1133.8" y="965.5"/>
<use href="#pe" x="1139.5" y="956.4"/>
<use href="#pe" x="1145.2" y="952.9"/>
<use href="#pe" x="1150.9" y="947.4"/>
<use href="#pe" x="1156.6" y="941.7"/>
<use href="#pe" x="1162.3" y="938.2"/>
<use href="#pe" x="1168" y="931.5"/>
<use href="#pe" x="1173.7" y="932.2"/>
<use href="#pe" x="1179.4" y="926.9"/>
<use href="#pe" x="1185" y="922.2"/>
<use href="#pe" x="1190.7" y="920.5"/>
<use href="#pe" x="1196.4" y="914.4"/>
<use href="#pe" x="1202.1" y="914.7"/>
<use href="#pe" x="1207.8" y="908.5"/>
<use href="#pe" x="1213.5" y="908.1"/>
<use href="#pe" x="1219.2" y="902"/>
<use href="#pe" x="1224.9" y="897"/>
<use href="#pe" x="1230.6" y="890.4"/>
<use href="#pe" x="1236.3" y="889.3"/>
<use href="#pe" x="1242" y="885.2"/>
<use href="#pe" x="1247.7" y="885.5"/>
<use href="#pe" x="1253.4" y="879.4"/>
<use href="#pe" x="1259.1" y="882"/>
<use href="#pe" x="1264.8" y="880.3"/>
<use href="#pe" x="1270.5" y="880.8"/>
<use href="#pe" x="1276.2" y="876.5"/>
<use href="#pe" x="1281.9" y="873.6"/>
<use href="#pe" x="1287.6" y="875.6"/>
<use href="#pe" x="1293.3" y="873.8"/>
<use href="#pe" x="1298.9" y="872.7"/>
<use href="#pe" x="1304.6" y="871.2"/>
<use href="#pe" x="1310.3" y="870.5"/>
<use href="#pe" x="1316" y="870.8"/>
<use href="#pe" x="1321.7" y="864.5"/>
<use href="#pe" x="1327.4" y="869.7"/>
<use href="#pe" x="1333.1" y="866.7"/>
<use href="#pe" x="1338.8" y="863.3"/>
<use href="#pe" x="1344.5" y="861.1"/>
<use href="#pe" x="1350.2" y="862.5"/>
<use href="#pe" x="1355.9" y="861.8"/>
<use href="#pe" x="1361.6" y="860.4"/>
<use href="#pe" x="1367.3" y="860.2"/>
<use href="#pe" x="1373" y="857.3"/>
<use href="#pe" x="1378.7" y="859.2"/>
<use href="#pe" x="1384.4" y="859.4"/>
<use href="#pe" x="1390.1" y="857.7"/>
<use href="#pe" x="1395.8" y="855.9"/>
<use href="#pe" x="1401.5" y="853"/>
<use href="#pe" x="1407.2" y="851.5"/>
<use href="#pe" x="1412.8" y="854.5"/>
<use href="#pe" x="1418.5" y="855.6"/>
<use href="#pe" x="1424.2" y="854.5"/>
<use href="#pe" x="1429.9" y="847"/>
<use href="#pe" x="1435.6" y="851"/>
<use href="#pe" x="1441.3" y="848.6"/>
<use href="#pe" x="1447" y="845.1"/>
<use href="#pe" x="1452.7" y="849.4"/>
<use href="#pe" x="1458.4" y="847.9"/>
<use href="#pe" x="1464.1" y="848.1"/>
<use href="#pe" x="1469.8" y="848.6"/>
<use href="#pe" x="1475.5" y="844.5"/>
<use href="#pe" x="1481.2" y="843.4"/>
<use href="#pe" x="1486.9" y="848.5"/>
<use href="#pe" x="1492.6" y="842.5"/>
<use href="#pe" x="1498.3" y="844.3"/>
<use href="#pe" x="1504" y="843"/>
<use href="#pe" x="1509.7" y="842.4"/>
<use href="#pe" x="1515.4" y="844.7"/>
<use href="#pe" x="1521.1" y="842.2"/>
<use href="#pe" x="1526.7" y="842.9"/>
<use href="#pe" x="1532.4" y="836.9"/></g></g>
<g transform="translate(0,0)">
<line x1="251.1" y1="124.7" x2="1532.4" y2="1006.0" stroke="#ff0000" stroke-width="8" stroke-linecap="round" stroke-dasharray="9.6 25.24" stroke-dashoffset="0"/>
<rect x="611.5" y="65.2" width="384" height="174.8" fill="#fff" stroke="#5a5a5a" stroke-width="2.4"/>
<use href="#lc" x="652" y="85.2"/>
<text x="700.5" y="97.2" font-size="34" fill="#262626" stroke="#262626" stroke-width="0.5" font-family="'Liberation Sans', Arial, sans-serif">H<tspan font-size="24" dy="8">2</tspan><tspan dy="-8">O</tspan></text>
<use href="#ltr" x="652" y="133.5"/>
<text x="700.5" y="146.8" font-size="34" fill="#262626" stroke="#262626" stroke-width="0.5" font-family="'Liberation Sans', Arial, sans-serif">0.25% P(VCap-VP)</text>
<use href="#lst" x="652" y="176.5"/>
<text x="700.5" y="189.2" font-size="34" fill="#262626" stroke="#262626" stroke-width="0.5" font-family="'Liberation Sans', Arial, sans-serif">0.25 % WPU2</text>
<use href="#lpe" x="652" y="218.8"/>
<text x="700.5" y="231.1" font-size="34" fill="#262626" stroke="#262626" stroke-width="0.5" font-family="'Liberation Sans', Arial, sans-serif">0.25 % WPU6</text>
<g stroke="#000" stroke-width="5.5" fill="none" stroke-linecap="square">
<line x1="251.4" y1="55.1" x2="1560" y2="55.1"/>
<line x1="251.4" y1="1018" x2="1560" y2="1018"/>
<line x1="251.4" y1="55.1" x2="251.4" y2="1018"/>
</g>
<g stroke="#000" stroke-width="5">
<line x1="227" y1="1002.3" x2="251.4" y2="1002.3"/>
<line x1="227" y1="844.3" x2="251.4" y2="844.3"/>
<line x1="227" y1="686.3" x2="251.4" y2="686.3"/>
<line x1="227" y1="528.3" x2="251.4" y2="528.3"/>
<line x1="227" y1="370.3" x2="251.4" y2="370.3"/>
<line x1="227" y1="212.3" x2="251.4" y2="212.3"/>
<line x1="227" y1="55.1" x2="251.4" y2="55.1"/>
<line x1="239.5" y1="923.3" x2="251.4" y2="923.3"/>
<line x1="239.5" y1="765.3" x2="251.4" y2="765.3"/>
<line x1="239.5" y1="607.3" x2="251.4" y2="607.3"/>
<line x1="239.5" y1="449.3" x2="251.4" y2="449.3"/>
<line x1="239.5" y1="291.3" x2="251.4" y2="291.3"/>
<line x1="239.5" y1="133.3" x2="251.4" y2="133.3"/>
<line x1="398" y1="1018" x2="398" y2="1040.3"/>
<line x1="625.8" y1="1018" x2="625.8" y2="1040.3"/>
<line x1="853.6" y1="1018" x2="853.6" y2="1040.3"/>
<line x1="1081.4" y1="1018" x2="1081.4" y2="1040.3"/>
<line x1="1309.2" y1="1018" x2="1309.2" y2="1040.3"/>
<line x1="1537" y1="1018" x2="1537" y2="1040.3"/>
<line x1="284.1" y1="1018" x2="284.1" y2="1029"/>
<line x1="511.9" y1="1018" x2="511.9" y2="1029"/>
<line x1="739.7" y1="1018" x2="739.7" y2="1029"/>
<line x1="967.5" y1="1018" x2="967.5" y2="1029"/>
<line x1="1195.3" y1="1018" x2="1195.3" y2="1029"/>
<line x1="1423.1" y1="1018" x2="1423.1" y2="1029"/>
</g>
<g stroke="#ff0000" stroke-width="6.5">
<line x1="1560" y1="55.1" x2="1560" y2="1018" stroke-linecap="square"/>
<line x1="1560" y1="994.2" x2="1581.5" y2="994.2" stroke-width="5"/>
<line x1="1560" y1="759.2" x2="1581.5" y2="759.2" stroke-width="5"/>
<line x1="1560" y1="524.2" x2="1581.5" y2="524.2" stroke-width="5"/>
<line x1="1560" y1="289.2" x2="1581.5" y2="289.2" stroke-width="5"/>
<line x1="1560" y1="54.2" x2="1581.5" y2="54.2" stroke-width="5"/>
<line x1="1560" y1="876.7" x2="1570.5" y2="876.7" stroke-width="5"/>
<line x1="1560" y1="641.7" x2="1570.5" y2="641.7" stroke-width="5"/>
<line x1="1560" y1="406.7" x2="1570.5" y2="406.7" stroke-width="5"/>
<line x1="1560" y1="171.7" x2="1570.5" y2="171.7" stroke-width="5"/>
</g>
<g font-family="'Liberation Sans', Arial, sans-serif" font-size="56.5" fill="#000" stroke="#000" stroke-width="0.8">
<text x="213.5" y="1017.9" text-anchor="end">0</text>
<text x="213.5" y="859.9" text-anchor="end">5</text>
<text x="213.5" y="701.9" text-anchor="end">10</text>
<text x="213.5" y="543.9" text-anchor="end">15</text>
<text x="213.5" y="385.9" text-anchor="end">20</text>
<text x="213.5" y="227.9" text-anchor="end">25</text>
<text x="213.5" y="69.9" text-anchor="end">30</text>
<text x="398" y="1100" text-anchor="middle">200</text>
<text x="625.8" y="1100" text-anchor="middle">400</text>
<text x="853.6" y="1100" text-anchor="middle">600</text>
<text x="1081.4" y="1100" text-anchor="middle">800</text>
<text x="1309.2" y="1100" text-anchor="middle">1000</text>
<text x="1537" y="1100" text-anchor="middle">1200</text>
</g>
<g font-family="'Liberation Sans', Arial, sans-serif" font-size="56.5" fill="#ff0000">
<text x="1596.8" y="1010.4">0</text>
<text x="1596.8" y="775.4">5</text>
<text x="1596.8" y="540.4">10</text>
<text x="1596.8" y="305.4">15</text>
<text x="1596.8" y="70.4">20</text>
</g>
<text x="906" y="1185.4" text-anchor="middle" font-family="'Liberation Sans', Arial, sans-serif" font-size="100" fill="#000"><tspan font-style="italic">t</tspan> (min)</text>
<text transform="translate(115.9,653.5) rotate(-90) scale(1.054,0.885)" font-family="'Liberation Serif', serif" font-style="italic" font-size="112" fill="#000">&#945;</text>
<text transform="translate(117.5,567) rotate(-90)" font-family="'Liberation Sans', Arial, sans-serif" font-size="100" fill="#000">(%)</text>
<text transform="translate(1772.5,533.2) rotate(-90)" text-anchor="middle" font-family="'Liberation Sans', Arial, sans-serif" font-size="100" fill="#ff0000"><tspan font-style="italic">T</tspan> (&#176;C)</text>
<text x="322" y="948" font-family="'Liberation Sans', Arial, sans-serif" font-size="100" font-weight="bold" fill="#000">(a)</text>
</g>
<g transform="translate(0,1177)">
<rect x="251.4" y="55.1" width="52.1" height="962.9" fill="#ffe4c4"/>
<line x1="597.5" y1="58.1" x2="597.5" y2="1015" stroke="#0000ff" stroke-width="3.5" stroke-dasharray="4.6 5.3"/>
<line x1="989.7" y1="58.1" x2="989.7" y2="1015" stroke="#a000ff" stroke-width="3.5" stroke-dasharray="4.6 5.3"/>
<line x1="1088" y1="58.1" x2="1088" y2="1015" stroke="#00ff18" stroke-width="3.5" stroke-dasharray="4.6 5.3"/>
<line x1="1273" y1="58.1" x2="1273" y2="1015" stroke="#222" stroke-width="3.5" stroke-dasharray="4.6 5.3"/>
</g>
<g clip-path="url(#cb)"><g><use href="#c" x="251.1" y="2177.1"/>
<use href="#c" x="256.8" y="2179.2"/>
<use href="#c" x="262.5" y="2179.2"/>
<use href="#c" x="268.2" y="2179.7"/>
<use href="#c" x="273.8" y="2177.8"/>
<use href="#c" x="279.5" y="2180.8"/>
<use href="#c" x="285.2" y="2177"/>
<use href="#c" x="290.9" y="2179.4"/>
<use href="#c" x="296.6" y="2178.4"/>
<use href="#c" x="302.3" y="2178.9"/>
<use href="#c" x="308" y="2177.3"/>
<use href="#c" x="313.7" y="2180.6"/>
<use href="#c" x="319.4" y="2179"/>
<use href="#c" x="325.1" y="2179"/>
<use href="#c" x="330.8" y="2177.6"/>
<use href="#c" x="336.5" y="2179.7"/>
<use href="#c" x="342.2" y="2178.8"/>
<use href="#c" x="347.9" y="2179.5"/>
<use href="#c" x="353.6" y="2178.6"/>
<use href="#c" x="359.3" y="2178.1"/>
<use href="#c" x="365" y="2179.7"/>
<use href="#c" x="370.7" y="2177.6"/>
<use href="#c" x="376.4" y="2177.8"/>
<use href="#c" x="382.1" y="2178.2"/>
<use href="#c" x="387.7" y="2177.8"/>
<use href="#c" x="393.4" y="2179.3"/>
<use href="#c" x="399.1" y="2178.8"/>
<use href="#c" x="404.8" y="2179.6"/>
<use href="#c" x="410.5" y="2178.9"/>
<use href="#c" x="416.2" y="2178.2"/>
<use href="#c" x="421.9" y="2179.3"/>
<use href="#c" x="427.6" y="2179"/>
<use href="#c" x="433.3" y="2179.3"/>
<use href="#c" x="439" y="2179.5"/>
<use href="#c" x="444.7" y="2179.3"/>
<use href="#c" x="450.4" y="2178.7"/>
<use href="#c" x="456.1" y="2179.7"/>
<use href="#c" x="461.8" y="2178.4"/>
<use href="#c" x="467.5" y="2177.1"/>
<use href="#c" x="473.2" y="2178"/>
<use href="#c" x="478.9" y="2178.8"/>
<use href="#c" x="484.6" y="2179.5"/>
<use href="#c" x="490.3" y="2179.4"/>
<use href="#c" x="496" y="2177.1"/>
<use href="#c" x="501.6" y="2178.6"/>
<use href="#c" x="507.3" y="2179.3"/>
<use href="#c" x="513" y="2178.5"/>
<use href="#c" x="518.7" y="2176.7"/>
<use href="#c" x="524.4" y="2178.6"/>
<use href="#c" x="530.1" y="2178.1"/>
<use href="#c" x="535.8" y="2178.4"/>
<use href="#c" x="541.5" y="2179"/>
<use href="#c" x="547.2" y="2179.8"/>
<use href="#c" x="552.9" y="2179"/>
<use href="#c" x="558.6" y="2178.9"/>
<use href="#c" x="564.3" y="2178.1"/>
<use href="#c" x="570" y="2177.9"/>
<use href="#c" x="575.7" y="2177.8"/>
<use href="#c" x="581.4" y="2178.4"/>
<use href="#c" x="587.1" y="2177.8"/>
<use href="#c" x="592.8" y="2179.4"/>
<use href="#c" x="598.5" y="2177.5"/>
<use href="#c" x="604.2" y="2178.2"/>
<use href="#c" x="609.9" y="2178.9"/>
<use href="#c" x="615.5" y="2175.8"/>
<use href="#c" x="621.2" y="2172"/>
<use href="#c" x="626.9" y="2162.4"/>
<use href="#c" x="632.6" y="2154.9"/>
<use href="#c" x="638.3" y="2148.8"/>
<use href="#c" x="644" y="2149.3"/>
<use href="#c" x="649.7" y="2147.1"/>
<use href="#c" x="655.4" y="2142.3"/>
<use href="#c" x="661.1" y="2132.6"/>
<use href="#c" x="666.8" y="2122"/>
<use href="#c" x="672.5" y="2112.6"/>
<use href="#c" x="678.2" y="2105.2"/>
<use href="#c" x="683.9" y="2097.3"/>
<use href="#c" x="689.6" y="2091.9"/>
<use href="#c" x="695.3" y="2088.7"/>
<use href="#c" x="701" y="2084.7"/>
<use href="#c" x="706.7" y="2082.6"/>
<use href="#c" x="712.4" y="2077.8"/>
<use href="#c" x="718.1" y="2069.7"/>
<use href="#c" x="723.8" y="2063.6"/>
<use href="#c" x="729.4" y="2052.5"/>
<use href="#c" x="735.1" y="2034.8"/>
<use href="#c" x="740.8" y="2012.5"/>
<use href="#c" x="746.5" y="1999.4"/>
<use href="#c" x="752.2" y="1988.7"/>
<use href="#c" x="757.9" y="1978.7"/>
<use href="#c" x="763.6" y="1971.6"/>
<use href="#c" x="769.3" y="1967.3"/>
<use href="#c" x="775" y="1964"/>
<use href="#c" x="780.7" y="1961.2"/>
<use href="#c" x="786.4" y="1957.7"/>
<use href="#c" x="792.1" y="1955.8"/>
<use href="#c" x="797.8" y="1954.2"/>
<use href="#c" x="803.5" y="1951.9"/>
<use href="#c" x="809.2" y="1950.6"/>
<use href="#c" x="814.9" y="1947.5"/>
<use href="#c" x="820.6" y="1946.7"/>
<use href="#c" x="826.3" y="1943.2"/>
<use href="#c" x="832" y="1941.9"/>
<use href="#c" x="837.7" y="1939.5"/>
<use href="#c" x="843.3" y="1938.8"/>
<use href="#c" x="849" y="1935.4"/>
<use href="#c" x="854.7" y="1932.8"/>
<use href="#c" x="860.4" y="1932.3"/>
<use href="#c" x="866.1" y="1929.6"/>
<use href="#c" x="871.8" y="1927.5"/>
<use href="#c" x="877.5" y="1927.2"/>
<use href="#c" x="883.2" y="1924.2"/>
<use href="#c" x="888.9" y="1922.5"/>
<use href="#c" x="894.6" y="1923"/>
<use href="#c" x="900.3" y="1920.9"/>
<use href="#c" x="906" y="1921.4"/>
<use href="#c" x="911.7" y="1919"/>
<use href="#c" x="917.4" y="1919.2"/>
<use href="#c" x="923.1" y="1915.1"/>
<use href="#c" x="928.8" y="1914.1"/>
<use href="#c" x="934.5" y="1912.7"/>
<use href="#c" x="940.2" y="1911.6"/>
<use href="#c" x="945.9" y="1907.8"/>
<use href="#c" x="951.6" y="1905.4"/>
<use href="#c" x="957.2" y="1907.2"/>
<use href="#c" x="962.9" y="1902.4"/>
<use href="#c" x="968.6" y="1900.1"/>
<use href="#c" x="974.3" y="1899.5"/>
<use href="#c" x="980" y="1899.1"/>
<use href="#c" x="985.7" y="1895.4"/>
<use href="#c" x="991.4" y="1894.7"/>
<use href="#c" x="997.1" y="1893.6"/>
<use href="#c" x="1002.8" y="1892.7"/>
<use href="#c" x="1008.5" y="1889.5"/>
<use href="#c" x="1014.2" y="1887.8"/>
<use href="#c" x="1019.9" y="1887.6"/>
<use href="#c" x="1025.6" y="1884.9"/>
<use href="#c" x="1031.3" y="1884.8"/>
<use href="#c" x="1037" y="1881.1"/>
<use href="#c" x="1042.7" y="1880"/>
<use href="#c" x="1048.4" y="1878.4"/>
<use href="#c" x="1054.1" y="1876.5"/>
<use href="#c" x="1059.8" y="1873.9"/>
<use href="#c" x="1065.5" y="1872.3"/>
<use href="#c" x="1071.1" y="1870.8"/>
<use href="#c" x="1076.8" y="1869.5"/>
<use href="#c" x="1082.5" y="1867.9"/>
<use href="#c" x="1088.2" y="1865.8"/>
<use href="#c" x="1093.9" y="1864.5"/>
<use href="#c" x="1099.6" y="1862.1"/>
<use href="#c" x="1105.3" y="1860.8"/>
<use href="#c" x="1111" y="1860.3"/>
<use href="#c" x="1116.7" y="1854.4"/>
<use href="#c" x="1122.4" y="1850.6"/>
<use href="#c" x="1128.1" y="1849.2"/>
<use href="#c" x="1133.8" y="1846"/>
<use href="#c" x="1139.5" y="1841.2"/>
<use href="#c" x="1145.2" y="1836"/>
<use href="#c" x="1150.9" y="1830.9"/>
<use href="#c" x="1156.6" y="1827"/>
<use href="#c" x="1162.3" y="1820.8"/>
<use href="#c" x="1168" y="1814.9"/>
<use href="#c" x="1173.7" y="1807.4"/>
<use href="#c" x="1179.4" y="1802.3"/>
<use href="#c" x="1185" y="1794.8"/>
<use href="#c" x="1190.7" y="1788.9"/>
<use href="#c" x="1196.4" y="1802.7"/>
<use href="#c" x="1202.1" y="1801.8"/>
<use href="#c" x="1207.8" y="1795.9"/>
<use href="#c" x="1213.5" y="1796.2"/>
<use href="#c" x="1219.2" y="1791.6"/>
<use href="#c" x="1224.9" y="1787.1"/>
<use href="#c" x="1230.6" y="1783"/>
<use href="#c" x="1236.3" y="1783.3"/>
<use href="#c" x="1242" y="1780.9"/>
<use href="#c" x="1247.7" y="1779.2"/>
<use href="#c" x="1253.4" y="1775.9"/>
<use href="#c" x="1259.1" y="1775.6"/>
<use href="#c" x="1264.8" y="1773"/>
<use href="#c" x="1270.5" y="1772.3"/>
<use href="#c" x="1276.2" y="1771.6"/>
<use href="#c" x="1281.9" y="1768.5"/>
<use href="#c" x="1287.6" y="1766.7"/>
<use href="#c" x="1293.3" y="1764.4"/>
<use href="#c" x="1298.9" y="1764.1"/>
<use href="#c" x="1304.6" y="1763.1"/>
<use href="#c" x="1310.3" y="1760.6"/>
<use href="#c" x="1316" y="1759.6"/>
<use href="#c" x="1321.7" y="1758.3"/>
<use href="#c" x="1327.4" y="1757.6"/>
<use href="#c" x="1333.1" y="1755.4"/>
<use href="#c" x="1338.8" y="1755.1"/>
<use href="#c" x="1344.5" y="1752.7"/>
<use href="#c" x="1350.2" y="1752.6"/>
<use href="#c" x="1355.9" y="1752.2"/>
<use href="#c" x="1361.6" y="1753.6"/>
<use href="#c" x="1367.3" y="1750.7"/>
<use href="#c" x="1373" y="1750.2"/>
<use href="#c" x="1378.7" y="1749.2"/>
<use href="#c" x="1384.4" y="1748.3"/>
<use href="#c" x="1390.1" y="1749.1"/>
<use href="#c" x="1395.8" y="1747.4"/>
<use href="#c" x="1401.5" y="1748.2"/>
<use href="#c" x="1407.2" y="1745.3"/>
<use href="#c" x="1412.8" y="1748"/>
<use href="#c" x="1418.5" y="1748"/>
<use href="#c" x="1424.2" y="1747.5"/>
<use href="#c" x="1429.9" y="1746.4"/>
<use href="#c" x="1435.6" y="1746.3"/>
<use href="#c" x="1441.3" y="1743.1"/>
<use href="#c" x="1447" y="1745"/>
<use href="#c" x="1452.7" y="1745.8"/>
<use href="#c" x="1458.4" y="1743.3"/>
<use href="#c" x="1464.1" y="1744.8"/>
<use href="#c" x="1469.8" y="1745.4"/>
<use href="#c" x="1475.5" y="1743.3"/>
<use href="#c" x="1481.2" y="1743.5"/>
<use href="#c" x="1486.9" y="1744.3"/>
<use href="#c" x="1492.6" y="1742.4"/>
<use href="#c" x="1498.3" y="1743.4"/>
<use href="#c" x="1504" y="1741.6"/>
<use href="#c" x="1509.7" y="1742.3"/>
<use href="#c" x="1515.4" y="1740.7"/>
<use href="#c" x="1521.1" y="1741.5"/>
<use href="#c" x="1526.7" y="1742.2"/>
<use href="#c" x="1532.4" y="1738.1"/></g>
<g><use href="#tr" x="251.1" y="2178.9"/>
<use href="#tr" x="256.8" y="2179.6"/>
<use href="#tr" x="262.5" y="2177"/>
<use href="#tr" x="268.2" y="2179.5"/>
<use href="#tr" x="273.8" y="2179.2"/>
<use href="#tr" x="279.5" y="2177.8"/>
<use href="#tr" x="285.2" y="2180.2"/>
<use href="#tr" x="290.9" y="2179.9"/>
<use href="#tr" x="296.6" y="2179.1"/>
<use href="#tr" x="302.3" y="2179.6"/>
<use href="#tr" x="308" y="2180.4"/>
<use href="#tr" x="313.7" y="2179.5"/>
<use href="#tr" x="319.4" y="2179.6"/>
<use href="#tr" x="325.1" y="2178.7"/>
<use href="#tr" x="330.8" y="2180.9"/>
<use href="#tr" x="336.5" y="2180"/>
<use href="#tr" x="342.2" y="2178.2"/>
<use href="#tr" x="347.9" y="2177.5"/>
<use href="#tr" x="353.6" y="2180.7"/>
<use href="#tr" x="359.3" y="2178.7"/>
<use href="#tr" x="365" y="2180.2"/>
<use href="#tr" x="370.7" y="2180.1"/>
<use href="#tr" x="376.4" y="2180.1"/>
<use href="#tr" x="382.1" y="2179.7"/>
<use href="#tr" x="387.7" y="2178.3"/>
<use href="#tr" x="393.4" y="2178.6"/>
<use href="#tr" x="399.1" y="2179.2"/>
<use href="#tr" x="404.8" y="2179.6"/>
<use href="#tr" x="410.5" y="2179.3"/>
<use href="#tr" x="416.2" y="2179.4"/>
<use href="#tr" x="421.9" y="2178.5"/>
<use href="#tr" x="427.6" y="2179.9"/>
<use href="#tr" x="433.3" y="2179.3"/>
<use href="#tr" x="439" y="2179.4"/>
<use href="#tr" x="444.7" y="2179.3"/>
<use href="#tr" x="450.4" y="2179"/>
<use href="#tr" x="456.1" y="2179.1"/>
<use href="#tr" x="461.8" y="2178"/>
<use href="#tr" x="467.5" y="2179.4"/>
<use href="#tr" x="473.2" y="2177.8"/>
<use href="#tr" x="478.9" y="2179.6"/>
<use href="#tr" x="484.6" y="2179.7"/>
<use href="#tr" x="490.3" y="2179.2"/>
<use href="#tr" x="496" y="2178.9"/>
<use href="#tr" x="501.6" y="2179"/>
<use href="#tr" x="507.3" y="2178"/>
<use href="#tr" x="513" y="2178.2"/>
<use href="#tr" x="518.7" y="2178.8"/>
<use href="#tr" x="524.4" y="2179.6"/>
<use href="#tr" x="530.1" y="2179.3"/>
<use href="#tr" x="535.8" y="2177.9"/>
<use href="#tr" x="541.5" y="2179"/>
<use href="#tr" x="547.2" y="2180.5"/>
<use href="#tr" x="552.9" y="2179.9"/>
<use href="#tr" x="558.6" y="2179.8"/>
<use href="#tr" x="564.3" y="2178.1"/>
<use href="#tr" x="570" y="2179.3"/>
<use href="#tr" x="575.7" y="2177.1"/>
<use href="#tr" x="581.4" y="2178.6"/>
<use href="#tr" x="587.1" y="2179.1"/>
<use href="#tr" x="592.8" y="2179.6"/>
<use href="#tr" x="598.5" y="2178.3"/>
<use href="#tr" x="604.2" y="2179.4"/>
<use href="#tr" x="609.9" y="2180"/>
<use href="#tr" x="615.5" y="2178.7"/>
<use href="#tr" x="621.2" y="2179.2"/>
<use href="#tr" x="626.9" y="2178.1"/>
<use href="#tr" x="632.6" y="2179.3"/>
<use href="#tr" x="638.3" y="2181.9"/>
<use href="#tr" x="644" y="2178.4"/>
<use href="#tr" x="649.7" y="2181"/>
<use href="#tr" x="655.4" y="2177.7"/>
<use href="#tr" x="661.1" y="2177.5"/>
<use href="#tr" x="666.8" y="2179.6"/>
<use href="#tr" x="672.5" y="2180.3"/>
<use href="#tr" x="678.2" y="2180.5"/>
<use href="#tr" x="683.9" y="2178.3"/>
<use href="#tr" x="689.6" y="2179.4"/>
<use href="#tr" x="695.3" y="2179.7"/>
<use href="#tr" x="701" y="2179.4"/>
<use href="#tr" x="706.7" y="2177.2"/>
<use href="#tr" x="712.4" y="2178.8"/>
<use href="#tr" x="718.1" y="2178.4"/>
<use href="#tr" x="723.8" y="2178.4"/>
<use href="#tr" x="729.4" y="2178.2"/>
<use href="#tr" x="735.1" y="2178.1"/>
<use href="#tr" x="740.8" y="2179.8"/>
<use href="#tr" x="746.5" y="2179.3"/>
<use href="#tr" x="752.2" y="2179.8"/>
<use href="#tr" x="757.9" y="2179.8"/>
<use href="#tr" x="763.6" y="2178"/>
<use href="#tr" x="769.3" y="2179.6"/>
<use href="#tr" x="775" y="2179.2"/>
<use href="#tr" x="780.7" y="2179.7"/>
<use href="#tr" x="786.4" y="2179.7"/>
<use href="#tr" x="792.1" y="2178.3"/>
<use href="#tr" x="797.8" y="2179.5"/>
<use href="#tr" x="803.5" y="2179.5"/>
<use href="#tr" x="809.2" y="2178.6"/>
<use href="#tr" x="814.9" y="2178.6"/>
<use href="#tr" x="820.6" y="2178.3"/>
<use href="#tr" x="826.3" y="2178.9"/>
<use href="#tr" x="832" y="2180.7"/>
<use href="#tr" x="837.7" y="2178.4"/>
<use href="#tr" x="843.3" y="2178.6"/>
<use href="#tr" x="849" y="2178.1"/>
<use href="#tr" x="854.7" y="2179.8"/>
<use href="#tr" x="860.4" y="2176.6"/>
<use href="#tr" x="866.1" y="2180.2"/>
<use href="#tr" x="871.8" y="2178.3"/>
<use href="#tr" x="877.5" y="2179"/>
<use href="#tr" x="883.2" y="2179.5"/>
<use href="#tr" x="888.9" y="2178.2"/>
<use href="#tr" x="894.6" y="2179.2"/>
<use href="#tr" x="900.3" y="2181.2"/>
<use href="#tr" x="906" y="2180.1"/>
<use href="#tr" x="911.7" y="2178.5"/>
<use href="#tr" x="917.4" y="2176.8"/>
<use href="#tr" x="923.1" y="2180.3"/>
<use href="#tr" x="928.8" y="2178.9"/>
<use href="#tr" x="934.5" y="2177.6"/>
<use href="#tr" x="940.2" y="2178.3"/>
<use href="#tr" x="945.9" y="2179.3"/>
<use href="#tr" x="951.6" y="2180.3"/>
<use href="#tr" x="957.2" y="2180.6"/>
<use href="#tr" x="962.9" y="2179.6"/>
<use href="#tr" x="968.6" y="2179.2"/>
<use href="#tr" x="974.3" y="2181"/>
<use href="#tr" x="980" y="2180.5"/>
<use href="#tr" x="985.7" y="2178.6"/>
<use href="#tr" x="991.4" y="2179.2"/>
<use href="#tr" x="997.1" y="2179.6"/>
<use href="#tr" x="1002.8" y="2179.2"/>
<use href="#tr" x="1008.5" y="2179.6"/>
<use href="#tr" x="1014.2" y="2177.9"/>
<use href="#tr" x="1019.9" y="2177.3"/>
<use href="#tr" x="1025.6" y="2176.8"/>
<use href="#tr" x="1031.3" y="2178.1"/>
<use href="#tr" x="1037" y="2178.1"/>
<use href="#tr" x="1042.7" y="2177.4"/>
<use href="#tr" x="1048.4" y="2177.1"/>
<use href="#tr" x="1054.1" y="2177.4"/>
<use href="#tr" x="1059.8" y="2177.6"/>
<use href="#tr" x="1065.5" y="2179.3"/>
<use href="#tr" x="1071.1" y="2180.2"/>
<use href="#tr" x="1076.8" y="2177.9"/>
<use href="#tr" x="1082.5" y="2178.8"/>
<use href="#tr" x="1088.2" y="2178.7"/>
<use href="#tr" x="1093.9" y="2179.5"/>
<use href="#tr" x="1099.6" y="2179.9"/>
<use href="#tr" x="1105.3" y="2177.3"/>
<use href="#tr" x="1111" y="2178.2"/>
<use href="#tr" x="1116.7" y="2179.6"/>
<use href="#tr" x="1122.4" y="2178.2"/>
<use href="#tr" x="1128.1" y="2178.3"/>
<use href="#tr" x="1133.8" y="2178.1"/>
<use href="#tr" x="1139.5" y="2176.4"/>
<use href="#tr" x="1145.2" y="2178.5"/>
<use href="#tr" x="1150.9" y="2179.6"/>
<use href="#tr" x="1156.6" y="2178.3"/>
<use href="#tr" x="1162.3" y="2178.9"/>
<use href="#tr" x="1168" y="2177.7"/>
<use href="#tr" x="1173.7" y="2178"/>
<use href="#tr" x="1179.4" y="2177.8"/>
<use href="#tr" x="1185" y="2178.6"/>
<use href="#tr" x="1190.7" y="2177.5"/>
<use href="#tr" x="1196.4" y="2178.3"/>
<use href="#tr" x="1202.1" y="2177.3"/>
<use href="#tr" x="1207.8" y="2177.9"/>
<use href="#tr" x="1213.5" y="2178.6"/>
<use href="#tr" x="1219.2" y="2177"/>
<use href="#tr" x="1224.9" y="2178"/>
<use href="#tr" x="1230.6" y="2175.8"/>
<use href="#tr" x="1236.3" y="2176.7"/>
<use href="#tr" x="1242" y="2176.5"/>
<use href="#tr" x="1247.7" y="2176.7"/>
<use href="#tr" x="1253.4" y="2176.7"/>
<use href="#tr" x="1259.1" y="2178.7"/>
<use href="#tr" x="1264.8" y="2175"/>
<use href="#tr" x="1270.5" y="2176.6"/>
<use href="#tr" x="1276.2" y="2174.5"/>
<use href="#tr" x="1281.9" y="2175.6"/>
<use href="#tr" x="1287.6" y="2174.8"/>
<use href="#tr" x="1293.3" y="2174.5"/>
<use href="#tr" x="1298.9" y="2174.8"/>
<use href="#tr" x="1304.6" y="2173.6"/>
<use href="#tr" x="1310.3" y="2172.5"/>
<use href="#tr" x="1316" y="2172.9"/>
<use href="#tr" x="1321.7" y="2173.3"/>
<use href="#tr" x="1327.4" y="2172.3"/>
<use href="#tr" x="1333.1" y="2171.1"/>
<use href="#tr" x="1338.8" y="2169.9"/>
<use href="#tr" x="1344.5" y="2169.7"/>
<use href="#tr" x="1350.2" y="2169.8"/>
<use href="#tr" x="1355.9" y="2170.6"/>
<use href="#tr" x="1361.6" y="2168.3"/>
<use href="#tr" x="1367.3" y="2168.6"/>
<use href="#tr" x="1373" y="2168.4"/>
<use href="#tr" x="1378.7" y="2166.9"/>
<use href="#tr" x="1384.4" y="2166.7"/>
<use href="#tr" x="1390.1" y="2166.4"/>
<use href="#tr" x="1395.8" y="2167.7"/>
<use href="#tr" x="1401.5" y="2166.8"/>
<use href="#tr" x="1407.2" y="2167.5"/>
<use href="#tr" x="1412.8" y="2165.4"/>
<use href="#tr" x="1418.5" y="2165.1"/>
<use href="#tr" x="1424.2" y="2163.8"/>
<use href="#tr" x="1429.9" y="2163.8"/>
<use href="#tr" x="1435.6" y="2163.6"/>
<use href="#tr" x="1441.3" y="2160.4"/>
<use href="#tr" x="1447" y="2162.4"/>
<use href="#tr" x="1452.7" y="2161.7"/>
<use href="#tr" x="1458.4" y="2160.1"/>
<use href="#tr" x="1464.1" y="2158"/>
<use href="#tr" x="1469.8" y="2157.8"/>
<use href="#tr" x="1475.5" y="2156.8"/>
<use href="#tr" x="1481.2" y="2156"/>
<use href="#tr" x="1486.9" y="2151.8"/>
<use href="#tr" x="1492.6" y="2151.6"/>
<use href="#tr" x="1498.3" y="2149.3"/>
<use href="#tr" x="1504" y="2145"/>
<use href="#tr" x="1509.7" y="2141.3"/>
<use href="#tr" x="1515.4" y="2135.5"/>
<use href="#tr" x="1521.1" y="2128.2"/>
<use href="#tr" x="1526.7" y="2122.8"/>
<use href="#tr" x="1532.4" y="2114.3"/></g>
<g><use href="#st" x="251.1" y="2179.6"/>
<use href="#st" x="256.8" y="2178.6"/>
<use href="#st" x="262.5" y="2179.1"/>
<use href="#st" x="268.2" y="2180.2"/>
<use href="#st" x="273.8" y="2181.7"/>
<use href="#st" x="279.5" y="2178.4"/>
<use href="#st" x="285.2" y="2178.2"/>
<use href="#st" x="290.9" y="2180.7"/>
<use href="#st" x="296.6" y="2177.7"/>
<use href="#st" x="302.3" y="2179.7"/>
<use href="#st" x="308" y="2176.8"/>
<use href="#st" x="313.7" y="2178.7"/>
<use href="#st" x="319.4" y="2179.6"/>
<use href="#st" x="325.1" y="2178.1"/>
<use href="#st" x="330.8" y="2179.2"/>
<use href="#st" x="336.5" y="2179.2"/>
<use href="#st" x="342.2" y="2179.2"/>
<use href="#st" x="347.9" y="2179.4"/>
<use href="#st" x="353.6" y="2178.7"/>
<use href="#st" x="359.3" y="2178.5"/>
<use href="#st" x="365" y="2179"/>
<use href="#st" x="370.7" y="2177.6"/>
<use href="#st" x="376.4" y="2180.6"/>
<use href="#st" x="382.1" y="2179.7"/>
<use href="#st" x="387.7" y="2178.5"/>
<use href="#st" x="393.4" y="2180.4"/>
<use href="#st" x="399.1" y="2177.8"/>
<use href="#st" x="404.8" y="2178.6"/>
<use href="#st" x="410.5" y="2179.5"/>
<use href="#st" x="416.2" y="2178.8"/>
<use href="#st" x="421.9" y="2179.8"/>
<use href="#st" x="427.6" y="2180.7"/>
<use href="#st" x="433.3" y="2178.5"/>
<use href="#st" x="439" y="2178.4"/>
<use href="#st" x="444.7" y="2179.2"/>
<use href="#st" x="450.4" y="2179.3"/>
<use href="#st" x="456.1" y="2181.3"/>
<use href="#st" x="461.8" y="2180.1"/>
<use href="#st" x="467.5" y="2179.7"/>
<use href="#st" x="473.2" y="2179.1"/>
<use href="#st" x="478.9" y="2178"/>
<use href="#st" x="484.6" y="2179.8"/>
<use href="#st" x="490.3" y="2180"/>
<use href="#st" x="496" y="2178.4"/>
<use href="#st" x="501.6" y="2179.4"/>
<use href="#st" x="507.3" y="2180.6"/>
<use href="#st" x="513" y="2178.1"/>
<use href="#st" x="518.7" y="2180.1"/>
<use href="#st" x="524.4" y="2179.8"/>
<use href="#st" x="530.1" y="2180.2"/>
<use href="#st" x="535.8" y="2178.9"/>
<use href="#st" x="541.5" y="2178.2"/>
<use href="#st" x="547.2" y="2179.6"/>
<use href="#st" x="552.9" y="2178.9"/>
<use href="#st" x="558.6" y="2179.7"/>
<use href="#st" x="564.3" y="2177"/>
<use href="#st" x="570" y="2177.8"/>
<use href="#st" x="575.7" y="2179.8"/>
<use href="#st" x="581.4" y="2178.7"/>
<use href="#st" x="587.1" y="2178.3"/>
<use href="#st" x="592.8" y="2178.8"/>
<use href="#st" x="598.5" y="2180"/>
<use href="#st" x="604.2" y="2179.4"/>
<use href="#st" x="609.9" y="2178.5"/>
<use href="#st" x="615.5" y="2178.8"/>
<use href="#st" x="621.2" y="2180"/>
<use href="#st" x="626.9" y="2178.8"/>
<use href="#st" x="632.6" y="2180.2"/>
<use href="#st" x="638.3" y="2181.2"/>
<use href="#st" x="644" y="2179"/>
<use href="#st" x="649.7" y="2178.3"/>
<use href="#st" x="655.4" y="2178.8"/>
<use href="#st" x="661.1" y="2177.8"/>
<use href="#st" x="666.8" y="2177.5"/>
<use href="#st" x="672.5" y="2178.8"/>
<use href="#st" x="678.2" y="2179.8"/>
<use href="#st" x="683.9" y="2179.2"/>
<use href="#st" x="689.6" y="2180.5"/>
<use href="#st" x="695.3" y="2179.2"/>
<use href="#st" x="701" y="2179.2"/>
<use href="#st" x="706.7" y="2179"/>
<use href="#st" x="712.4" y="2178.1"/>
<use href="#st" x="718.1" y="2181.2"/>
<use href="#st" x="723.8" y="2178.4"/>
<use href="#st" x="729.4" y="2179.6"/>
<use href="#st" x="735.1" y="2178.4"/>
<use href="#st" x="740.8" y="2178.9"/>
<use href="#st" x="746.5" y="2180.1"/>
<use href="#st" x="752.2" y="2178.3"/>
<use href="#st" x="757.9" y="2179.8"/>
<use href="#st" x="763.6" y="2178.6"/>
<use href="#st" x="769.3" y="2179.6"/>
<use href="#st" x="775" y="2179.5"/>
<use href="#st" x="780.7" y="2179"/>
<use href="#st" x="786.4" y="2177.2"/>
<use href="#st" x="792.1" y="2178.4"/>
<use href="#st" x="797.8" y="2179.1"/>
<use href="#st" x="803.5" y="2177.5"/>
<use href="#st" x="809.2" y="2179"/>
<use href="#st" x="814.9" y="2179.3"/>
<use href="#st" x="820.6" y="2179.9"/>
<use href="#st" x="826.3" y="2178.8"/>
<use href="#st" x="832" y="2178.9"/>
<use href="#st" x="837.7" y="2179.6"/>
<use href="#st" x="843.3" y="2180.8"/>
<use href="#st" x="849" y="2179.1"/>
<use href="#st" x="854.7" y="2178.8"/>
<use href="#st" x="860.4" y="2179.3"/>
<use href="#st" x="866.1" y="2179.8"/>
<use href="#st" x="871.8" y="2179.9"/>
<use href="#st" x="877.5" y="2179.4"/>
<use href="#st" x="883.2" y="2177.6"/>
<use href="#st" x="888.9" y="2178.7"/>
<use href="#st" x="894.6" y="2180.4"/>
<use href="#st" x="900.3" y="2178.3"/>
<use href="#st" x="906" y="2179.3"/>
<use href="#st" x="911.7" y="2176.6"/>
<use href="#st" x="917.4" y="2179.1"/>
<use href="#st" x="923.1" y="2178.9"/>
<use href="#st" x="928.8" y="2178.6"/>
<use href="#st" x="934.5" y="2178.5"/>
<use href="#st" x="940.2" y="2178.7"/>
<use href="#st" x="945.9" y="2178.7"/>
<use href="#st" x="951.6" y="2179"/>
<use href="#st" x="957.2" y="2179.3"/>
<use href="#st" x="962.9" y="2179.1"/>
<use href="#st" x="968.6" y="2179.8"/>
<use href="#st" x="974.3" y="2179.2"/>
<use href="#st" x="980" y="2179.3"/>
<use href="#st" x="985.7" y="2179.1"/>
<use href="#st" x="991.4" y="2177.3"/>
<use href="#st" x="997.1" y="2169.3"/>
<use href="#st" x="1002.8" y="2156.4"/>
<use href="#st" x="1008.5" y="2145.8"/>
<use href="#st" x="1014.2" y="2134.7"/>
<use href="#st" x="1019.9" y="2121.8"/>
<use href="#st" x="1025.6" y="2109.6"/>
<use href="#st" x="1031.3" y="2100.4"/>
<use href="#st" x="1037" y="2087.6"/>
<use href="#st" x="1042.7" y="2077.3"/>
<use href="#st" x="1048.4" y="2057.3"/>
<use href="#st" x="1054.1" y="2043.7"/>
<use href="#st" x="1059.8" y="2040.9"/>
<use href="#st" x="1065.5" y="2032.7"/>
<use href="#st" x="1071.1" y="2031.3"/>
<use href="#st" x="1076.8" y="2026.8"/>
<use href="#st" x="1082.5" y="2026.8"/>
<use href="#st" x="1088.2" y="2024.9"/>
<use href="#st" x="1093.9" y="2023.1"/>
<use href="#st" x="1099.6" y="2023.6"/>
<use href="#st" x="1105.3" y="2023"/>
<use href="#st" x="1111" y="2021.2"/>
<use href="#st" x="1116.7" y="2018.3"/>
<use href="#st" x="1122.4" y="2015"/>
<use href="#st" x="1128.1" y="2000.4"/>
<use href="#st" x="1133.8" y="1978.3"/>
<use href="#st" x="1139.5" y="1945.5"/>
<use href="#st" x="1145.2" y="1913.7"/>
<use href="#st" x="1150.9" y="1889.4"/>
<use href="#st" x="1156.6" y="1877.7"/>
<use href="#st" x="1162.3" y="1861.6"/>
<use href="#st" x="1168" y="1845.6"/>
<use href="#st" x="1173.7" y="1830.2"/>
<use href="#st" x="1179.4" y="1818.2"/>
<use href="#st" x="1185" y="1810.1"/>
<use href="#st" x="1190.7" y="1800.1"/>
<use href="#st" x="1196.4" y="1790.3"/>
<use href="#st" x="1202.1" y="1782.9"/>
<use href="#st" x="1207.8" y="1772"/>
<use href="#st" x="1213.5" y="1761.1"/>
<use href="#st" x="1219.2" y="1750.3"/>
<use href="#st" x="1224.9" y="1737.8"/>
<use href="#st" x="1230.6" y="1726.9"/>
<use href="#st" x="1236.3" y="1716.8"/>
<use href="#st" x="1242" y="1708.2"/>
<use href="#st" x="1247.7" y="1700.7"/>
<use href="#st" x="1253.4" y="1693.1"/>
<use href="#st" x="1259.1" y="1687.2"/>
<use href="#st" x="1264.8" y="1678"/>
<use href="#st" x="1270.5" y="1671.3"/>
<use href="#st" x="1276.2" y="1662.8"/>
<use href="#st" x="1281.9" y="1654.9"/>
<use href="#st" x="1287.6" y="1647.9"/>
<use href="#st" x="1293.3" y="1641.8"/>
<use href="#st" x="1298.9" y="1634.7"/>
<use href="#st" x="1304.6" y="1625.2"/>
<use href="#st" x="1310.3" y="1617.2"/>
<use href="#st" x="1316" y="1610.7"/>
<use href="#st" x="1321.7" y="1600.7"/>
<use href="#st" x="1327.4" y="1588.2"/>
<use href="#st" x="1333.1" y="1578.5"/>
<use href="#st" x="1338.8" y="1566.5"/>
<use href="#st" x="1344.5" y="1558.3"/>
<use href="#st" x="1350.2" y="1548.6"/>
<use href="#st" x="1355.9" y="1540.2"/>
<use href="#st" x="1361.6" y="1531.3"/>
<use href="#st" x="1367.3" y="1522.8"/>
<use href="#st" x="1373" y="1514.4"/>
<use href="#st" x="1378.7" y="1501.1"/>
<use href="#st" x="1384.4" y="1492.1"/>
<use href="#st" x="1390.1" y="1484.8"/>
<use href="#st" x="1395.8" y="1475"/>
<use href="#st" x="1401.5" y="1468"/>
<use href="#st" x="1407.2" y="1454.5"/>
<use href="#st" x="1412.8" y="1445.5"/>
<use href="#st" x="1418.5" y="1436"/>
<use href="#st" x="1424.2" y="1431.7"/>
<use href="#st" x="1429.9" y="1421.9"/>
<use href="#st" x="1435.6" y="1416.2"/>
<use href="#st" x="1441.3" y="1410.6"/>
<use href="#st" x="1447" y="1405.2"/>
<use href="#st" x="1452.7" y="1397.4"/>
<use href="#st" x="1458.4" y="1391.2"/>
<use href="#st" x="1464.1" y="1386.5"/>
<use href="#st" x="1469.8" y="1382.2"/>
<use href="#st" x="1475.5" y="1376.8"/>
<use href="#st" x="1481.2" y="1371.1"/>
<use href="#st" x="1486.9" y="1364.3"/>
<use href="#st" x="1492.6" y="1359.1"/>
<use href="#st" x="1498.3" y="1353.8"/>
<use href="#st" x="1504" y="1350.2"/>
<use href="#st" x="1509.7" y="1347.5"/>
<use href="#st" x="1515.4" y="1342.3"/>
<use href="#st" x="1521.1" y="1338.8"/>
<use href="#st" x="1526.7" y="1334.5"/>
<use href="#st" x="1532.4" y="1329.9"/></g>
<g><use href="#pe" x="251.1" y="2179.1"/>
<use href="#pe" x="256.8" y="2177.2"/>
<use href="#pe" x="262.5" y="2183"/>
<use href="#pe" x="268.2" y="2181.9"/>
<use href="#pe" x="273.8" y="2183.7"/>
<use href="#pe" x="279.5" y="2174.7"/>
<use href="#pe" x="285.2" y="2176"/>
<use href="#pe" x="290.9" y="2175.1"/>
<use href="#pe" x="296.6" y="2177.8"/>
<use href="#pe" x="302.3" y="2177.4"/>
<use href="#pe" x="308" y="2181.5"/>
<use href="#pe" x="313.7" y="2175.7"/>
<use href="#pe" x="319.4" y="2181.4"/>
<use href="#pe" x="325.1" y="2180.6"/>
<use href="#pe" x="330.8" y="2180"/>
<use href="#pe" x="336.5" y="2180.8"/>
<use href="#pe" x="342.2" y="2177.7"/>
<use href="#pe" x="347.9" y="2179.7"/>
<use href="#pe" x="353.6" y="2179.4"/>
<use href="#pe" x="359.3" y="2179.7"/>
<use href="#pe" x="365" y="2176.7"/>
<use href="#pe" x="370.7" y="2180.5"/>
<use href="#pe" x="376.4" y="2179.6"/>
<use href="#pe" x="382.1" y="2178.5"/>
<use href="#pe" x="387.7" y="2182.4"/>
<use href="#pe" x="393.4" y="2180.2"/>
<use href="#pe" x="399.1" y="2178.3"/>
<use href="#pe" x="404.8" y="2177.1"/>
<use href="#pe" x="410.5" y="2179"/>
<use href="#pe" x="416.2" y="2180.6"/>
<use href="#pe" x="421.9" y="2176.6"/>
<use href="#pe" x="427.6" y="2179.7"/>
<use href="#pe" x="433.3" y="2179.2"/>
<use href="#pe" x="439" y="2179"/>
<use href="#pe" x="444.7" y="2179.4"/>
<use href="#pe" x="450.4" y="2180.3"/>
<use href="#pe" x="456.1" y="2178.4"/>
<use href="#pe" x="461.8" y="2181.5"/>
<use href="#pe" x="467.5" y="2180.2"/>
<use href="#pe" x="473.2" y="2180.1"/>
<use href="#pe" x="478.9" y="2181.1"/>
<use href="#pe" x="484.6" y="2179.1"/>
<use href="#pe" x="490.3" y="2179"/>
<use href="#pe" x="496" y="2179.2"/>
<use href="#pe" x="501.6" y="2179.6"/>
<use href="#pe" x="507.3" y="2178.3"/>
<use href="#pe" x="513" y="2176.1"/>
<use href="#pe" x="518.7" y="2177.4"/>
<use href="#pe" x="524.4" y="2185.2"/>
<use href="#pe" x="530.1" y="2177.1"/>
<use href="#pe" x="535.8" y="2182.8"/>
<use href="#pe" x="541.5" y="2182.7"/>
<use href="#pe" x="547.2" y="2179.1"/>
<use href="#pe" x="552.9" y="2181.9"/>
<use href="#pe" x="558.6" y="2176.4"/>
<use href="#pe" x="564.3" y="2178"/>
<use href="#pe" x="570" y="2180.8"/>
<use href="#pe" x="575.7" y="2182.4"/>
<use href="#pe" x="581.4" y="2178.7"/>
<use href="#pe" x="587.1" y="2177"/>
<use href="#pe" x="592.8" y="2179.1"/>
<use href="#pe" x="598.5" y="2175.7"/>
<use href="#pe" x="604.2" y="2178.3"/>
<use href="#pe" x="609.9" y="2177.8"/>
<use href="#pe" x="615.5" y="2179.9"/>
<use href="#pe" x="621.2" y="2178.6"/>
<use href="#pe" x="626.9" y="2179.7"/>
<use href="#pe" x="632.6" y="2182.9"/>
<use href="#pe" x="638.3" y="2174.6"/>
<use href="#pe" x="644" y="2179.6"/>
<use href="#pe" x="649.7" y="2179.1"/>
<use href="#pe" x="655.4" y="2176.8"/>
<use href="#pe" x="661.1" y="2179.1"/>
<use href="#pe" x="666.8" y="2178.9"/>
<use href="#pe" x="672.5" y="2178.5"/>
<use href="#pe" x="678.2" y="2181.5"/>
<use href="#pe" x="683.9" y="2176.4"/>
<use href="#pe" x="689.6" y="2178.6"/>
<use href="#pe" x="695.3" y="2180.5"/>
<use href="#pe" x="701" y="2177.5"/>
<use href="#pe" x="706.7" y="2178.6"/>
<use href="#pe" x="712.4" y="2181.1"/>
<use href="#pe" x="718.1" y="2179"/>
<use href="#pe" x="723.8" y="2179.3"/>
<use href="#pe" x="729.4" y="2178.7"/>
<use href="#pe" x="735.1" y="2178.6"/>
<use href="#pe" x="740.8" y="2177.9"/>
<use href="#pe" x="746.5" y="2181.6"/>
<use href="#pe" x="752.2" y="2179.3"/>
<use href="#pe" x="757.9" y="2181"/>
<use href="#pe" x="763.6" y="2178.4"/>
<use href="#pe" x="769.3" y="2181.8"/>
<use href="#pe" x="775" y="2183.5"/>
<use href="#pe" x="780.7" y="2180.1"/>
<use href="#pe" x="786.4" y="2174.5"/>
<use href="#pe" x="792.1" y="2177.1"/>
<use href="#pe" x="797.8" y="2179.1"/>
<use href="#pe" x="803.5" y="2174.6"/>
<use href="#pe" x="809.2" y="2179.7"/>
<use href="#pe" x="814.9" y="2179.7"/>
<use href="#pe" x="820.6" y="2177.7"/>
<use href="#pe" x="826.3" y="2178.7"/>
<use href="#pe" x="832" y="2179.4"/>
<use href="#pe" x="837.7" y="2180.2"/>
<use href="#pe" x="843.3" y="2179.4"/>
<use href="#pe" x="849" y="2177.3"/>
<use href="#pe" x="854.7" y="2181.8"/>
<use href="#pe" x="860.4" y="2180.6"/>
<use href="#pe" x="866.1" y="2176.8"/>
<use href="#pe" x="871.8" y="2174.5"/>
<use href="#pe" x="877.5" y="2182.8"/>
<use href="#pe" x="883.2" y="2178.5"/>
<use href="#pe" x="888.9" y="2176.2"/>
<use href="#pe" x="894.6" y="2179.7"/>
<use href="#pe" x="900.3" y="2180.4"/>
<use href="#pe" x="906" y="2176.9"/>
<use href="#pe" x="911.7" y="2180.3"/>
<use href="#pe" x="917.4" y="2180.7"/>
<use href="#pe" x="923.1" y="2180.4"/>
<use href="#pe" x="928.8" y="2181.9"/>
<use href="#pe" x="934.5" y="2183.8"/>
<use href="#pe" x="940.2" y="2177.1"/>
<use href="#pe" x="945.9" y="2176.1"/>
<use href="#pe" x="951.6" y="2178.9"/>
<use href="#pe" x="957.2" y="2179.7"/>
<use href="#pe" x="962.9" y="2178.4"/>
<use href="#pe" x="968.6" y="2179.6"/>
<use href="#pe" x="974.3" y="2182.6"/>
<use href="#pe" x="980" y="2181.6"/>
<use href="#pe" x="985.7" y="2178.5"/>
<use href="#pe" x="991.4" y="2180"/>
<use href="#pe" x="997.1" y="2182.3"/>
<use href="#pe" x="1002.8" y="2182"/>
<use href="#pe" x="1008.5" y="2177.5"/>
<use href="#pe" x="1014.2" y="2182.2"/>
<use href="#pe" x="1019.9" y="2177.1"/>
<use href="#pe" x="1025.6" y="2178.4"/>
<use href="#pe" x="1031.3" y="2181.2"/>
<use href="#pe" x="1037" y="2179.9"/>
<use href="#pe" x="1042.7" y="2179"/>
<use href="#pe" x="1048.4" y="2178.6"/>
<use href="#pe" x="1054.1" y="2178.8"/>
<use href="#pe" x="1059.8" y="2176.6"/>
<use href="#pe" x="1065.5" y="2177.5"/>
<use href="#pe" x="1071.1" y="2180.3"/>
<use href="#pe" x="1076.8" y="2179.6"/>
<use href="#pe" x="1082.5" y="2180.9"/>
<use href="#pe" x="1088.2" y="2178.2"/>
<use href="#pe" x="1093.9" y="2173.8"/>
<use href="#pe" x="1099.6" y="2173.6"/>
<use href="#pe" x="1105.3" y="2163.7"/>
<use href="#pe" x="1111" y="2157.9"/>
<use href="#pe" x="1116.7" y="2151.3"/>
<use href="#pe" x="1122.4" y="2146.2"/>
<use href="#pe" x="1128.1" y="2129.5"/>
<use href="#pe" x="1133.8" y="2117.2"/>
<use href="#pe" x="1139.5" y="2106.1"/>
<use href="#pe" x="1145.2" y="2100.1"/>
<use href="#pe" x="1150.9" y="2087.3"/>
<use href="#pe" x="1156.6" y="2074.8"/>
<use href="#pe" x="1162.3" y="2068.1"/>
<use href="#pe" x="1168" y="2061.9"/>
<use href="#pe" x="1173.7" y="2053.9"/>
<use href="#pe" x="1179.4" y="2045.2"/>
<use href="#pe" x="1185" y="2043.1"/>
<use href="#pe" x="1190.7" y="2038.2"/>
<use href="#pe" x="1196.4" y="2035.3"/>
<use href="#pe" x="1202.1" y="2030.4"/>
<use href="#pe" x="1207.8" y="2027.4"/>
<use href="#pe" x="1213.5" y="2027.2"/>
<use href="#pe" x="1219.2" y="2021.6"/>
<use href="#pe" x="1224.9" y="2017.7"/>
<use href="#pe" x="1230.6" y="2017.9"/>
<use href="#pe" x="1236.3" y="2013.2"/>
<use href="#pe" x="1242" y="2009"/>
<use href="#pe" x="1247.7" y="2007.2"/>
<use href="#pe" x="1253.4" y="2006.9"/>
<use href="#pe" x="1259.1" y="2000.9"/>
<use href="#pe" x="1264.8" y="2000.9"/>
<use href="#pe" x="1270.5" y="2001.4"/>
<use href="#pe" x="1276.2" y="2002.9"/>
<use href="#pe" x="1281.9" y="1997.9"/>
<use href="#pe" x="1287.6" y="1995.3"/>
<use href="#pe" x="1293.3" y="1994.5"/>
<use href="#pe" x="1298.9" y="1992.2"/>
<use href="#pe" x="1304.6" y="1987.7"/>
<use href="#pe" x="1310.3" y="1987.9"/>
<use href="#pe" x="1316" y="1985.6"/>
<use href="#pe" x="1321.7" y="1989.6"/>
<use href="#pe" x="1327.4" y="1985.9"/>
<use href="#pe" x="1333.1" y="1982.4"/>
<use href="#pe" x="1338.8" y="1985.5"/>
<use href="#pe" x="1344.5" y="1979.3"/>
<use href="#pe" x="1350.2" y="1984.6"/>
<use href="#pe" x="1355.9" y="1982.7"/>
<use href="#pe" x="1361.6" y="1978"/>
<use href="#pe" x="1367.3" y="1984.5"/>
<use href="#pe" x="1373" y="1978.5"/>
<use href="#pe" x="1378.7" y="1982"/>
<use href="#pe" x="1384.4" y="1981.5"/>
<use href="#pe" x="1390.1" y="1978.9"/>
<use href="#pe" x="1395.8" y="1978.8"/>
<use href="#pe" x="1401.5" y="1977.3"/>
<use href="#pe" x="1407.2" y="1978.3"/>
<use href="#pe" x="1412.8" y="1978.3"/>
<use href="#pe" x="1418.5" y="1979.6"/>
<use href="#pe" x="1424.2" y="1976.5"/>
<use href="#pe" x="1429.9" y="1981.4"/>
<use href="#pe" x="1435.6" y="1975.1"/>
<use href="#pe" x="1441.3" y="1975.5"/>
<use href="#pe" x="1447" y="1973"/>
<use href="#pe" x="1452.7" y="1972.5"/>
<use href="#pe" x="1458.4" y="1977.5"/>
<use href="#pe" x="1464.1" y="1973.3"/>
<use href="#pe" x="1469.8" y="1975.5"/>
<use href="#pe" x="1475.5" y="1974.6"/>
<use href="#pe" x="1481.2" y="1971.8"/>
<use href="#pe" x="1486.9" y="1972"/>
<use href="#pe" x="1492.6" y="1971.8"/>
<use href="#pe" x="1498.3" y="1972.5"/>
<use href="#pe" x="1504" y="1971.7"/>
<use href="#pe" x="1509.7" y="1974"/>
<use href="#pe" x="1515.4" y="1972.8"/>
<use href="#pe" x="1521.1" y="1970.3"/>
<use href="#pe" x="1526.7" y="1973.5"/>
<use href="#pe" x="1532.4" y="1972.3"/></g></g>
<g transform="translate(0,1177)">
<line x1="251.1" y1="126.1" x2="1532.4" y2="1007.4" stroke="#ff0000" stroke-width="8" stroke-linecap="round" stroke-dasharray="9.6 25.24" stroke-dashoffset="0"/>
<rect x="610.1" y="64.4" width="365.2" height="176.2" fill="#fff" stroke="#5a5a5a" stroke-width="2.4"/>
<use href="#lc" x="650.4" y="85.5"/>
<text x="698.3" y="97.1" font-size="34" fill="#262626" stroke="#262626" stroke-width="0.5" font-family="'Liberation Sans', Arial, sans-serif">H<tspan font-size="24" dy="8">2</tspan><tspan dy="-8">O</tspan></text>
<use href="#ltr" x="650.4" y="132.5"/>
<text x="698.3" y="145" font-size="34" fill="#262626" stroke="#262626" stroke-width="0.5" font-family="'Liberation Sans', Arial, sans-serif">0.5% P(VCap-VP)</text>
<use href="#lst" x="650.4" y="175.5"/>
<text x="698.3" y="187.8" font-size="34" fill="#262626" stroke="#262626" stroke-width="0.5" font-family="'Liberation Sans', Arial, sans-serif">0.5 % WPU2</text>
<use href="#lpe" x="650.4" y="217"/>
<text x="698.3" y="229.3" font-size="34" fill="#262626" stroke="#262626" stroke-width="0.5" font-family="'Liberation Sans', Arial, sans-serif">0.5 % WPU6</text>
<g stroke="#000" stroke-width="5.5" fill="none" stroke-linecap="square">
<line x1="251.4" y1="55.1" x2="1560" y2="55.1"/>
<line x1="251.4" y1="1018" x2="1560" y2="1018"/>
<line x1="251.4" y1="55.1" x2="251.4" y2="1018"/>
</g>
<g stroke="#000" stroke-width="5">
<line x1="227" y1="1002.3" x2="251.4" y2="1002.3"/>
<line x1="227" y1="844.3" x2="251.4" y2="844.3"/>
<line x1="227" y1="686.3" x2="251.4" y2="686.3"/>
<line x1="227" y1="528.3" x2="251.4" y2="528.3"/>
<line x1="227" y1="370.3" x2="251.4" y2="370.3"/>
<line x1="227" y1="212.3" x2="251.4" y2="212.3"/>
<line x1="227" y1="55.1" x2="251.4" y2="55.1"/>
<line x1="239.5" y1="923.3" x2="251.4" y2="923.3"/>
<line x1="239.5" y1="765.3" x2="251.4" y2="765.3"/>
<line x1="239.5" y1="607.3" x2="251.4" y2="607.3"/>
<line x1="239.5" y1="449.3" x2="251.4" y2="449.3"/>
<line x1="239.5" y1="291.3" x2="251.4" y2="291.3"/>
<line x1="239.5" y1="133.3" x2="251.4" y2="133.3"/>
<line x1="398" y1="1018" x2="398" y2="1040.3"/>
<line x1="625.8" y1="1018" x2="625.8" y2="1040.3"/>
<line x1="853.6" y1="1018" x2="853.6" y2="1040.3"/>
<line x1="1081.4" y1="1018" x2="1081.4" y2="1040.3"/>
<line x1="1309.2" y1="1018" x2="1309.2" y2="1040.3"/>
<line x1="1537" y1="1018" x2="1537" y2="1040.3"/>
<line x1="284.1" y1="1018" x2="284.1" y2="1029"/>
<line x1="511.9" y1="1018" x2="511.9" y2="1029"/>
<line x1="739.7" y1="1018" x2="739.7" y2="1029"/>
<line x1="967.5" y1="1018" x2="967.5" y2="1029"/>
<line x1="1195.3" y1="1018" x2="1195.3" y2="1029"/>
<line x1="1423.1" y1="1018" x2="1423.1" y2="1029"/>
</g>
<g stroke="#ff0000" stroke-width="6.5">
<line x1="1560" y1="55.1" x2="1560" y2="1018" stroke-linecap="square"/>
<line x1="1560" y1="994.2" x2="1581.5" y2="994.2" stroke-width="5"/>
<line x1="1560" y1="759.2" x2="1581.5" y2="759.2" stroke-width="5"/>
<line x1="1560" y1="524.2" x2="1581.5" y2="524.2" stroke-width="5"/>
<line x1="1560" y1="289.2" x2="1581.5" y2="289.2" stroke-width="5"/>
<line x1="1560" y1="54.2" x2="1581.5" y2="54.2" stroke-width="5"/>
<line x1="1560" y1="876.7" x2="1570.5" y2="876.7" stroke-width="5"/>
<line x1="1560" y1="641.7" x2="1570.5" y2="641.7" stroke-width="5"/>
<line x1="1560" y1="406.7" x2="1570.5" y2="406.7" stroke-width="5"/>
<line x1="1560" y1="171.7" x2="1570.5" y2="171.7" stroke-width="5"/>
</g>
<g font-family="'Liberation Sans', Arial, sans-serif" font-size="56.5" fill="#000" stroke="#000" stroke-width="0.8">
<text x="213.5" y="1017.9" text-anchor="end">0</text>
<text x="213.5" y="859.9" text-anchor="end">5</text>
<text x="213.5" y="701.9" text-anchor="end">10</text>
<text x="213.5" y="543.9" text-anchor="end">15</text>
<text x="213.5" y="385.9" text-anchor="end">20</text>
<text x="213.5" y="227.9" text-anchor="end">25</text>
<text x="213.5" y="69.9" text-anchor="end">30</text>
<text x="398" y="1100" text-anchor="middle">200</text>
<text x="625.8" y="1100" text-anchor="middle">400</text>
<text x="853.6" y="1100" text-anchor="middle">600</text>
<text x="1081.4" y="1100" text-anchor="middle">800</text>
<text x="1309.2" y="1100" text-anchor="middle">1000</text>
<text x="1537" y="1100" text-anchor="middle">1200</text>
</g>
<g font-family="'Liberation Sans', Arial, sans-serif" font-size="56.5" fill="#ff0000">
<text x="1596.8" y="1010.4">0</text>
<text x="1596.8" y="775.4">5</text>
<text x="1596.8" y="540.4">10</text>
<text x="1596.8" y="305.4">15</text>
<text x="1596.8" y="70.4">20</text>
</g>
<text x="906" y="1185.4" text-anchor="middle" font-family="'Liberation Sans', Arial, sans-serif" font-size="100" fill="#000"><tspan font-style="italic">t</tspan> (min)</text>
<text transform="translate(115.9,653.5) rotate(-90) scale(1.054,0.885)" font-family="'Liberation Serif', serif" font-style="italic" font-size="112" fill="#000">&#945;</text>
<text transform="translate(117.5,567) rotate(-90)" font-family="'Liberation Sans', Arial, sans-serif" font-size="100" fill="#000">(%)</text>
<text transform="translate(1772.5,533.2) rotate(-90)" text-anchor="middle" font-family="'Liberation Sans', Arial, sans-serif" font-size="100" fill="#ff0000"><tspan font-style="italic">T</tspan> (&#176;C)</text>
<text x="322" y="948" font-family="'Liberation Sans', Arial, sans-serif" font-size="100" font-weight="bold" fill="#000">(b)</text>
</g>
</g>
</svg>
</body></html>
